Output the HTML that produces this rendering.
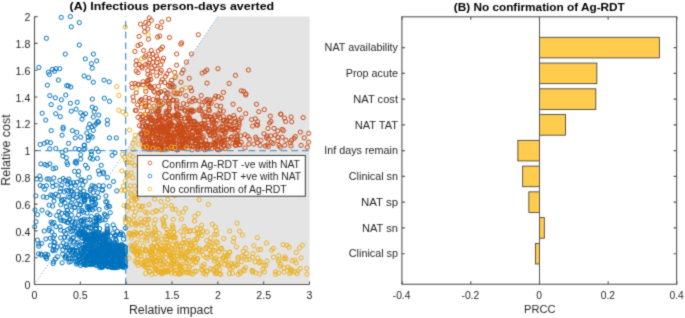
<!DOCTYPE html><html><head><meta charset="utf-8"><style>html,body{margin:0;padding:0;background:#fff;overflow:hidden}svg{display:block}</style></head><body><svg xmlns="http://www.w3.org/2000/svg" width="685" height="318" viewBox="0 0 685 318"><defs><filter id="bl" x="0" y="0" width="685" height="318" filterUnits="userSpaceOnUse" color-interpolation-filters="sRGB"><feConvolveMatrix order="3" kernelMatrix="0.0225 0.1050 0.0225 0.1050 0.4900 0.1050 0.0225 0.1050 0.0225" edgeMode="duplicate"/></filter></defs><g filter="url(#bl)"><rect width="685" height="318" fill="#fff"/><polygon points="126.17,284.50 126.17,150.55 217.84,16.60 309.51,16.60 309.51,284.50" fill="#E4E4E4"/><g fill="none" stroke="#C94A16" stroke-width="1.0"><circle cx="149.2" cy="17.9" r="2.1"/><circle cx="151.3" cy="20.3" r="2.1"/><circle cx="145.7" cy="22.4" r="2.1"/><circle cx="148.5" cy="23.5" r="2.1"/><circle cx="140.5" cy="24.1" r="2.1"/><circle cx="144.3" cy="27.3" r="2.1"/><circle cx="147.8" cy="29.1" r="2.1"/><circle cx="144.7" cy="31.9" r="2.1"/><circle cx="139.1" cy="36.4" r="2.1"/><circle cx="148.5" cy="39.2" r="2.1"/><circle cx="157.4" cy="26.3" r="2.1"/><circle cx="160.7" cy="27.6" r="2.1"/><circle cx="161.8" cy="22.0" r="2.1"/><circle cx="168.6" cy="19.3" r="2.1"/><circle cx="157.6" cy="37.1" r="2.1"/><circle cx="159.7" cy="36.1" r="2.1"/><circle cx="169.5" cy="37.5" r="2.1"/><circle cx="198.3" cy="34.7" r="2.1"/><circle cx="140.5" cy="44.2" r="2.1"/><circle cx="138.0" cy="45.6" r="2.1"/><circle cx="134.9" cy="51.5" r="2.1"/><circle cx="143.6" cy="50.5" r="2.1"/><circle cx="151.3" cy="50.5" r="2.1"/><circle cx="149.2" cy="54.0" r="2.1"/><circle cx="152.7" cy="54.0" r="2.1"/><circle cx="145.7" cy="55.7" r="2.1"/><circle cx="158.3" cy="50.9" r="2.1"/><circle cx="160.7" cy="49.1" r="2.1"/><circle cx="162.5" cy="47.0" r="2.1"/><circle cx="156.5" cy="56.1" r="2.1"/><circle cx="153.4" cy="58.2" r="2.1"/><circle cx="149.9" cy="59.6" r="2.1"/><circle cx="144.3" cy="57.5" r="2.1"/><circle cx="136.3" cy="60.7" r="2.1"/><circle cx="135.9" cy="65.2" r="2.1"/><circle cx="139.4" cy="64.5" r="2.1"/><circle cx="141.5" cy="66.6" r="2.1"/><circle cx="145.7" cy="64.5" r="2.1"/><circle cx="147.8" cy="65.2" r="2.1"/><circle cx="148.9" cy="63.1" r="2.1"/><circle cx="152.7" cy="62.4" r="2.1"/><circle cx="154.8" cy="65.9" r="2.1"/><circle cx="156.9" cy="62.4" r="2.1"/><circle cx="157.6" cy="58.9" r="2.1"/><circle cx="160.7" cy="65.0" r="2.1"/><circle cx="162.5" cy="61.0" r="2.1"/><circle cx="163.5" cy="58.2" r="2.1"/><circle cx="152.0" cy="68.0" r="2.1"/><circle cx="156.9" cy="68.7" r="2.1"/><circle cx="142.2" cy="68.0" r="2.1"/><circle cx="176.6" cy="54.0" r="2.1"/><circle cx="176.6" cy="65.2" r="2.1"/><circle cx="180.8" cy="44.2" r="2.1"/><circle cx="181.7" cy="42.8" r="2.1"/><circle cx="191.3" cy="54.0" r="2.1"/><circle cx="186.4" cy="62.1" r="2.1"/><circle cx="183.2" cy="70.0" r="2.1"/><circle cx="206.9" cy="70.0" r="2.1"/><circle cx="217.9" cy="68.7" r="2.1"/><circle cx="181.9" cy="73.1" r="2.1"/><circle cx="189.2" cy="78.3" r="2.1"/><circle cx="202.2" cy="73.1" r="2.1"/><circle cx="205.0" cy="71.6" r="2.1"/><circle cx="248.4" cy="70.0" r="2.1"/><circle cx="235.5" cy="75.4" r="2.1"/><circle cx="207.0" cy="83.1" r="2.1"/><circle cx="229.1" cy="83.5" r="2.1"/><circle cx="181.0" cy="82.2" r="2.1"/><circle cx="190.6" cy="87.9" r="2.1"/><circle cx="191.6" cy="90.8" r="2.1"/><circle cx="181.9" cy="89.9" r="2.1"/><circle cx="223.4" cy="92.4" r="2.1"/><circle cx="241.3" cy="90.8" r="2.1"/><circle cx="243.6" cy="91.2" r="2.1"/><circle cx="245.9" cy="93.7" r="2.1"/><circle cx="201.2" cy="95.6" r="2.1"/><circle cx="215.6" cy="96.2" r="2.1"/><circle cx="218.5" cy="96.6" r="2.1"/><circle cx="221.4" cy="98.2" r="2.1"/><circle cx="185.8" cy="95.6" r="2.1"/><circle cx="207.0" cy="99.5" r="2.1"/><circle cx="193.5" cy="98.5" r="2.1"/><circle cx="214.5" cy="98.7" r="2.1"/><circle cx="245.7" cy="95.0" r="2.1"/><circle cx="211.2" cy="103.2" r="2.1"/><circle cx="216.7" cy="105.7" r="2.1"/><circle cx="220.7" cy="106.2" r="2.1"/><circle cx="220.1" cy="110.6" r="2.1"/><circle cx="223.4" cy="111.1" r="2.1"/><circle cx="233.1" cy="104.2" r="2.1"/><circle cx="239.5" cy="109.6" r="2.1"/><circle cx="245.7" cy="113.6" r="2.1"/><circle cx="256.5" cy="104.2" r="2.1"/><circle cx="258.8" cy="111.7" r="2.1"/><circle cx="264.3" cy="109.6" r="2.1"/><circle cx="214.5" cy="115.1" r="2.1"/><circle cx="218.2" cy="115.8" r="2.1"/><circle cx="218.9" cy="113.6" r="2.1"/><circle cx="210.7" cy="117.3" r="2.1"/><circle cx="211.5" cy="120.3" r="2.1"/><circle cx="213.0" cy="122.5" r="2.1"/><circle cx="217.4" cy="120.3" r="2.1"/><circle cx="233.8" cy="115.5" r="2.1"/><circle cx="234.6" cy="118.1" r="2.1"/><circle cx="241.3" cy="118.1" r="2.1"/><circle cx="226.4" cy="121.1" r="2.1"/><circle cx="230.1" cy="121.5" r="2.1"/><circle cx="251.7" cy="119.6" r="2.1"/><circle cx="255.4" cy="118.8" r="2.1"/><circle cx="257.6" cy="121.8" r="2.1"/><circle cx="270.3" cy="116.1" r="2.1"/><circle cx="271.0" cy="121.5" r="2.1"/><circle cx="269.6" cy="123.0" r="2.1"/><circle cx="280.7" cy="114.1" r="2.1"/><circle cx="284.5" cy="118.1" r="2.1"/><circle cx="285.6" cy="121.5" r="2.1"/><circle cx="291.1" cy="117.0" r="2.1"/><circle cx="291.6" cy="121.8" r="2.1"/><circle cx="303.1" cy="117.6" r="2.1"/><circle cx="252.6" cy="126.1" r="2.1"/><circle cx="256.4" cy="124.6" r="2.1"/><circle cx="257.6" cy="125.2" r="2.1"/><circle cx="280.9" cy="114.3" r="2.1"/><circle cx="268.0" cy="128.4" r="2.1"/><circle cx="274.0" cy="128.4" r="2.1"/><circle cx="277.8" cy="130.9" r="2.1"/><circle cx="282.2" cy="129.4" r="2.1"/><circle cx="283.4" cy="130.6" r="2.1"/><circle cx="263.9" cy="133.7" r="2.1"/><circle cx="267.1" cy="135.9" r="2.1"/><circle cx="266.4" cy="137.8" r="2.1"/><circle cx="268.3" cy="139.1" r="2.1"/><circle cx="270.8" cy="135.9" r="2.1"/><circle cx="275.2" cy="135.3" r="2.1"/><circle cx="277.8" cy="137.2" r="2.1"/><circle cx="282.2" cy="137.2" r="2.1"/><circle cx="285.9" cy="140.3" r="2.1"/><circle cx="245.0" cy="134.7" r="2.1"/><circle cx="247.6" cy="136.5" r="2.1"/><circle cx="240.6" cy="135.9" r="2.1"/><circle cx="249.4" cy="139.1" r="2.1"/><circle cx="255.7" cy="137.2" r="2.1"/><circle cx="256.4" cy="139.1" r="2.1"/><circle cx="260.8" cy="140.3" r="2.1"/><circle cx="241.3" cy="142.2" r="2.1"/><circle cx="240.0" cy="144.7" r="2.1"/><circle cx="245.0" cy="147.9" r="2.1"/><circle cx="248.8" cy="144.1" r="2.1"/><circle cx="253.8" cy="144.1" r="2.1"/><circle cx="257.6" cy="142.8" r="2.1"/><circle cx="260.1" cy="145.4" r="2.1"/><circle cx="265.2" cy="146.0" r="2.1"/><circle cx="267.1" cy="145.0" r="2.1"/><circle cx="268.3" cy="146.6" r="2.1"/><circle cx="271.5" cy="142.2" r="2.1"/><circle cx="273.0" cy="143.5" r="2.1"/><circle cx="277.8" cy="141.0" r="2.1"/><circle cx="279.0" cy="145.4" r="2.1"/><circle cx="280.3" cy="147.2" r="2.1"/><circle cx="284.7" cy="145.4" r="2.1"/><circle cx="290.4" cy="142.8" r="2.1"/><circle cx="291.6" cy="140.3" r="2.1"/><circle cx="294.1" cy="138.4" r="2.1"/><circle cx="295.4" cy="136.5" r="2.1"/><circle cx="291.0" cy="146.0" r="2.1"/><circle cx="300.4" cy="132.1" r="2.1"/><circle cx="304.2" cy="137.8" r="2.1"/><circle cx="308.6" cy="133.4" r="2.1"/><circle cx="308.6" cy="142.2" r="2.1"/><circle cx="307.3" cy="147.2" r="2.1"/><circle cx="301.1" cy="145.4" r="2.1"/><circle cx="135.1" cy="83.5" r="2.1"/><circle cx="138.0" cy="72.6" r="2.1"/><circle cx="136.2" cy="71.1" r="2.1"/><circle cx="143.0" cy="81.7" r="2.1"/><circle cx="149.9" cy="76.1" r="2.1"/><circle cx="150.9" cy="79.5" r="2.1"/><circle cx="148.0" cy="80.3" r="2.1"/><circle cx="147.2" cy="81.2" r="2.1"/><circle cx="152.8" cy="71.7" r="2.1"/><circle cx="147.8" cy="74.3" r="2.1"/><circle cx="149.0" cy="79.8" r="2.1"/><circle cx="147.7" cy="70.6" r="2.1"/><circle cx="156.8" cy="75.8" r="2.1"/><circle cx="162.3" cy="79.6" r="2.1"/><circle cx="161.1" cy="82.0" r="2.1"/><circle cx="160.4" cy="72.8" r="2.1"/><circle cx="161.3" cy="70.5" r="2.1"/><circle cx="169.4" cy="70.5" r="2.1"/><circle cx="165.4" cy="76.6" r="2.1"/><circle cx="164.8" cy="82.5" r="2.1"/><circle cx="166.9" cy="73.9" r="2.1"/><circle cx="170.0" cy="83.3" r="2.1"/><circle cx="171.5" cy="80.3" r="2.1"/><circle cx="174.7" cy="72.4" r="2.1"/><circle cx="175.1" cy="77.4" r="2.1"/><circle cx="132.1" cy="87.4" r="2.1"/><circle cx="131.9" cy="83.6" r="2.1"/><circle cx="137.8" cy="84.4" r="2.1"/><circle cx="138.9" cy="84.7" r="2.1"/><circle cx="136.2" cy="92.7" r="2.1"/><circle cx="143.1" cy="84.8" r="2.1"/><circle cx="151.9" cy="87.8" r="2.1"/><circle cx="147.3" cy="83.8" r="2.1"/><circle cx="149.8" cy="86.0" r="2.1"/><circle cx="148.2" cy="84.4" r="2.1"/><circle cx="150.2" cy="87.4" r="2.1"/><circle cx="145.8" cy="91.4" r="2.1"/><circle cx="154.6" cy="92.2" r="2.1"/><circle cx="158.9" cy="93.1" r="2.1"/><circle cx="153.7" cy="91.2" r="2.1"/><circle cx="160.6" cy="91.9" r="2.1"/><circle cx="160.8" cy="91.8" r="2.1"/><circle cx="158.7" cy="92.9" r="2.1"/><circle cx="154.5" cy="86.5" r="2.1"/><circle cx="158.4" cy="86.3" r="2.1"/><circle cx="170.0" cy="86.5" r="2.1"/><circle cx="166.3" cy="93.0" r="2.1"/><circle cx="164.9" cy="90.7" r="2.1"/><circle cx="168.4" cy="85.4" r="2.1"/><circle cx="172.0" cy="87.2" r="2.1"/><circle cx="168.0" cy="93.1" r="2.1"/><circle cx="177.4" cy="93.2" r="2.1"/><circle cx="180.0" cy="93.9" r="2.1"/><circle cx="175.8" cy="94.0" r="2.1"/><circle cx="174.0" cy="86.7" r="2.1"/><circle cx="173.9" cy="92.7" r="2.1"/><circle cx="172.4" cy="84.8" r="2.1"/><circle cx="133.7" cy="100.9" r="2.1"/><circle cx="133.0" cy="97.0" r="2.1"/><circle cx="141.4" cy="107.3" r="2.1"/><circle cx="141.1" cy="100.2" r="2.1"/><circle cx="137.6" cy="104.9" r="2.1"/><circle cx="141.3" cy="99.5" r="2.1"/><circle cx="139.8" cy="101.4" r="2.1"/><circle cx="145.7" cy="97.3" r="2.1"/><circle cx="145.9" cy="105.5" r="2.1"/><circle cx="149.0" cy="98.3" r="2.1"/><circle cx="145.1" cy="106.6" r="2.1"/><circle cx="149.4" cy="106.0" r="2.1"/><circle cx="149.3" cy="101.1" r="2.1"/><circle cx="145.3" cy="103.3" r="2.1"/><circle cx="153.1" cy="99.6" r="2.1"/><circle cx="158.6" cy="110.4" r="2.1"/><circle cx="156.5" cy="100.6" r="2.1"/><circle cx="160.9" cy="101.3" r="2.1"/><circle cx="153.9" cy="106.0" r="2.1"/><circle cx="161.3" cy="104.9" r="2.1"/><circle cx="158.5" cy="102.4" r="2.1"/><circle cx="157.7" cy="97.0" r="2.1"/><circle cx="158.3" cy="99.9" r="2.1"/><circle cx="159.0" cy="105.5" r="2.1"/><circle cx="159.2" cy="108.7" r="2.1"/><circle cx="169.4" cy="103.7" r="2.1"/><circle cx="168.1" cy="103.2" r="2.1"/><circle cx="168.2" cy="101.2" r="2.1"/><circle cx="162.9" cy="103.4" r="2.1"/><circle cx="165.5" cy="97.9" r="2.1"/><circle cx="170.3" cy="97.8" r="2.1"/><circle cx="169.4" cy="107.8" r="2.1"/><circle cx="169.3" cy="109.1" r="2.1"/><circle cx="165.8" cy="97.7" r="2.1"/><circle cx="176.6" cy="106.0" r="2.1"/><circle cx="176.5" cy="108.0" r="2.1"/><circle cx="176.6" cy="100.6" r="2.1"/><circle cx="177.1" cy="103.1" r="2.1"/><circle cx="173.6" cy="100.4" r="2.1"/><circle cx="177.0" cy="109.6" r="2.1"/><circle cx="180.4" cy="108.3" r="2.1"/><circle cx="172.5" cy="100.1" r="2.1"/><circle cx="182.5" cy="108.5" r="2.1"/><circle cx="187.0" cy="104.7" r="2.1"/><circle cx="188.8" cy="110.0" r="2.1"/><circle cx="183.4" cy="103.5" r="2.1"/><circle cx="189.7" cy="100.6" r="2.1"/><circle cx="185.0" cy="110.1" r="2.1"/><circle cx="195.0" cy="100.5" r="2.1"/><circle cx="191.7" cy="101.7" r="2.1"/><circle cx="191.6" cy="109.8" r="2.1"/><circle cx="198.9" cy="110.3" r="2.1"/><circle cx="199.0" cy="100.9" r="2.1"/><circle cx="202.1" cy="105.2" r="2.1"/><circle cx="205.9" cy="100.7" r="2.1"/><circle cx="199.5" cy="108.9" r="2.1"/><circle cx="204.5" cy="101.6" r="2.1"/><circle cx="208.8" cy="106.7" r="2.1"/><circle cx="208.8" cy="109.4" r="2.1"/><circle cx="209.6" cy="101.9" r="2.1"/><circle cx="209.9" cy="100.0" r="2.1"/><circle cx="208.8" cy="103.8" r="2.1"/><circle cx="135.3" cy="110.5" r="2.1"/><circle cx="140.7" cy="114.4" r="2.1"/><circle cx="136.4" cy="110.5" r="2.1"/><circle cx="142.5" cy="116.0" r="2.1"/><circle cx="142.5" cy="122.3" r="2.1"/><circle cx="143.0" cy="117.1" r="2.1"/><circle cx="140.9" cy="119.9" r="2.1"/><circle cx="142.8" cy="120.4" r="2.1"/><circle cx="138.0" cy="117.3" r="2.1"/><circle cx="147.5" cy="122.4" r="2.1"/><circle cx="148.7" cy="114.8" r="2.1"/><circle cx="151.5" cy="111.4" r="2.1"/><circle cx="153.2" cy="110.9" r="2.1"/><circle cx="150.8" cy="119.7" r="2.1"/><circle cx="148.3" cy="116.8" r="2.1"/><circle cx="150.8" cy="117.1" r="2.1"/><circle cx="145.3" cy="114.7" r="2.1"/><circle cx="147.5" cy="122.0" r="2.1"/><circle cx="152.7" cy="120.6" r="2.1"/><circle cx="146.0" cy="117.7" r="2.1"/><circle cx="150.6" cy="119.0" r="2.1"/><circle cx="149.1" cy="117.1" r="2.1"/><circle cx="151.1" cy="119.8" r="2.1"/><circle cx="152.2" cy="118.1" r="2.1"/><circle cx="147.3" cy="110.6" r="2.1"/><circle cx="157.4" cy="114.9" r="2.1"/><circle cx="159.5" cy="122.8" r="2.1"/><circle cx="158.6" cy="120.3" r="2.1"/><circle cx="156.9" cy="113.9" r="2.1"/><circle cx="156.9" cy="120.9" r="2.1"/><circle cx="160.9" cy="120.5" r="2.1"/><circle cx="161.5" cy="119.5" r="2.1"/><circle cx="157.7" cy="110.6" r="2.1"/><circle cx="154.9" cy="122.7" r="2.1"/><circle cx="157.0" cy="112.0" r="2.1"/><circle cx="162.1" cy="116.1" r="2.1"/><circle cx="158.7" cy="119.4" r="2.1"/><circle cx="160.0" cy="117.6" r="2.1"/><circle cx="154.9" cy="120.9" r="2.1"/><circle cx="158.9" cy="111.2" r="2.1"/><circle cx="159.3" cy="115.5" r="2.1"/><circle cx="156.7" cy="121.4" r="2.1"/><circle cx="170.1" cy="115.8" r="2.1"/><circle cx="169.9" cy="119.6" r="2.1"/><circle cx="169.3" cy="118.9" r="2.1"/><circle cx="164.8" cy="117.3" r="2.1"/><circle cx="169.5" cy="123.1" r="2.1"/><circle cx="171.1" cy="123.1" r="2.1"/><circle cx="165.1" cy="118.6" r="2.1"/><circle cx="165.8" cy="123.0" r="2.1"/><circle cx="169.7" cy="116.3" r="2.1"/><circle cx="168.9" cy="114.9" r="2.1"/><circle cx="169.0" cy="122.9" r="2.1"/><circle cx="166.2" cy="113.1" r="2.1"/><circle cx="168.0" cy="120.9" r="2.1"/><circle cx="163.3" cy="120.4" r="2.1"/><circle cx="167.3" cy="112.7" r="2.1"/><circle cx="166.2" cy="111.3" r="2.1"/><circle cx="168.5" cy="111.0" r="2.1"/><circle cx="173.6" cy="115.8" r="2.1"/><circle cx="177.6" cy="115.7" r="2.1"/><circle cx="178.8" cy="114.3" r="2.1"/><circle cx="172.9" cy="118.0" r="2.1"/><circle cx="176.8" cy="114.5" r="2.1"/><circle cx="176.3" cy="116.9" r="2.1"/><circle cx="181.0" cy="119.4" r="2.1"/><circle cx="176.2" cy="116.0" r="2.1"/><circle cx="175.9" cy="115.9" r="2.1"/><circle cx="178.5" cy="115.4" r="2.1"/><circle cx="175.6" cy="115.0" r="2.1"/><circle cx="178.5" cy="120.9" r="2.1"/><circle cx="177.0" cy="119.3" r="2.1"/><circle cx="181.2" cy="117.6" r="2.1"/><circle cx="179.6" cy="122.9" r="2.1"/><circle cx="189.9" cy="118.5" r="2.1"/><circle cx="187.8" cy="111.7" r="2.1"/><circle cx="184.9" cy="110.9" r="2.1"/><circle cx="188.4" cy="116.8" r="2.1"/><circle cx="190.2" cy="113.4" r="2.1"/><circle cx="188.6" cy="120.0" r="2.1"/><circle cx="186.9" cy="115.8" r="2.1"/><circle cx="185.8" cy="121.7" r="2.1"/><circle cx="189.0" cy="118.3" r="2.1"/><circle cx="184.4" cy="118.4" r="2.1"/><circle cx="188.1" cy="117.9" r="2.1"/><circle cx="194.1" cy="121.8" r="2.1"/><circle cx="191.4" cy="110.8" r="2.1"/><circle cx="193.1" cy="121.2" r="2.1"/><circle cx="192.0" cy="122.1" r="2.1"/><circle cx="190.3" cy="111.2" r="2.1"/><circle cx="196.4" cy="123.5" r="2.1"/><circle cx="190.4" cy="120.9" r="2.1"/><circle cx="193.9" cy="110.8" r="2.1"/><circle cx="192.7" cy="111.6" r="2.1"/><circle cx="194.6" cy="121.4" r="2.1"/><circle cx="206.8" cy="116.3" r="2.1"/><circle cx="204.8" cy="112.3" r="2.1"/><circle cx="200.7" cy="110.5" r="2.1"/><circle cx="205.3" cy="116.7" r="2.1"/><circle cx="204.4" cy="123.5" r="2.1"/><circle cx="208.5" cy="119.5" r="2.1"/><circle cx="202.9" cy="114.1" r="2.1"/><circle cx="203.2" cy="116.2" r="2.1"/><circle cx="204.3" cy="120.2" r="2.1"/><circle cx="212.3" cy="119.6" r="2.1"/><circle cx="215.3" cy="116.8" r="2.1"/><circle cx="213.9" cy="122.2" r="2.1"/><circle cx="209.5" cy="110.7" r="2.1"/><circle cx="209.0" cy="116.4" r="2.1"/><circle cx="213.1" cy="123.3" r="2.1"/><circle cx="215.8" cy="123.1" r="2.1"/><circle cx="213.2" cy="122.6" r="2.1"/><circle cx="225.5" cy="122.5" r="2.1"/><circle cx="223.1" cy="120.8" r="2.1"/><circle cx="220.1" cy="117.8" r="2.1"/><circle cx="223.3" cy="116.5" r="2.1"/><circle cx="222.9" cy="123.6" r="2.1"/><circle cx="224.4" cy="120.1" r="2.1"/><circle cx="229.2" cy="117.0" r="2.1"/><circle cx="227.3" cy="120.2" r="2.1"/><circle cx="235.2" cy="121.4" r="2.1"/><circle cx="234.5" cy="122.7" r="2.1"/><circle cx="230.0" cy="117.8" r="2.1"/><circle cx="239.3" cy="120.2" r="2.1"/><circle cx="239.1" cy="122.6" r="2.1"/><circle cx="141.5" cy="134.7" r="2.1"/><circle cx="139.4" cy="125.7" r="2.1"/><circle cx="141.9" cy="126.9" r="2.1"/><circle cx="144.0" cy="129.8" r="2.1"/><circle cx="141.9" cy="133.7" r="2.1"/><circle cx="143.4" cy="132.1" r="2.1"/><circle cx="140.8" cy="133.8" r="2.1"/><circle cx="142.8" cy="126.1" r="2.1"/><circle cx="151.8" cy="129.9" r="2.1"/><circle cx="146.1" cy="135.1" r="2.1"/><circle cx="147.8" cy="135.6" r="2.1"/><circle cx="151.6" cy="124.0" r="2.1"/><circle cx="150.5" cy="127.0" r="2.1"/><circle cx="144.6" cy="135.2" r="2.1"/><circle cx="147.4" cy="136.3" r="2.1"/><circle cx="152.1" cy="131.4" r="2.1"/><circle cx="153.0" cy="133.5" r="2.1"/><circle cx="153.6" cy="127.0" r="2.1"/><circle cx="152.7" cy="132.5" r="2.1"/><circle cx="149.8" cy="131.9" r="2.1"/><circle cx="153.3" cy="127.6" r="2.1"/><circle cx="147.8" cy="134.0" r="2.1"/><circle cx="147.0" cy="128.6" r="2.1"/><circle cx="152.8" cy="126.2" r="2.1"/><circle cx="153.5" cy="127.8" r="2.1"/><circle cx="144.7" cy="135.9" r="2.1"/><circle cx="152.6" cy="135.1" r="2.1"/><circle cx="147.4" cy="132.6" r="2.1"/><circle cx="145.9" cy="126.5" r="2.1"/><circle cx="148.6" cy="130.7" r="2.1"/><circle cx="146.4" cy="132.0" r="2.1"/><circle cx="147.8" cy="127.3" r="2.1"/><circle cx="153.0" cy="133.1" r="2.1"/><circle cx="147.0" cy="127.7" r="2.1"/><circle cx="149.9" cy="134.2" r="2.1"/><circle cx="146.4" cy="125.6" r="2.1"/><circle cx="157.0" cy="134.6" r="2.1"/><circle cx="157.8" cy="129.2" r="2.1"/><circle cx="161.0" cy="127.7" r="2.1"/><circle cx="155.1" cy="130.3" r="2.1"/><circle cx="157.1" cy="128.7" r="2.1"/><circle cx="160.3" cy="131.8" r="2.1"/><circle cx="162.2" cy="129.3" r="2.1"/><circle cx="156.0" cy="125.2" r="2.1"/><circle cx="161.8" cy="132.1" r="2.1"/><circle cx="160.6" cy="127.9" r="2.1"/><circle cx="161.7" cy="125.2" r="2.1"/><circle cx="155.4" cy="129.4" r="2.1"/><circle cx="156.6" cy="131.9" r="2.1"/><circle cx="159.5" cy="130.9" r="2.1"/><circle cx="160.6" cy="132.9" r="2.1"/><circle cx="161.3" cy="135.1" r="2.1"/><circle cx="161.2" cy="127.3" r="2.1"/><circle cx="160.8" cy="126.3" r="2.1"/><circle cx="162.4" cy="128.5" r="2.1"/><circle cx="160.8" cy="125.6" r="2.1"/><circle cx="160.9" cy="127.9" r="2.1"/><circle cx="162.3" cy="129.2" r="2.1"/><circle cx="161.1" cy="134.2" r="2.1"/><circle cx="157.9" cy="133.9" r="2.1"/><circle cx="157.6" cy="127.1" r="2.1"/><circle cx="162.5" cy="128.1" r="2.1"/><circle cx="158.1" cy="128.1" r="2.1"/><circle cx="154.3" cy="127.5" r="2.1"/><circle cx="162.1" cy="129.5" r="2.1"/><circle cx="159.5" cy="129.4" r="2.1"/><circle cx="171.4" cy="125.4" r="2.1"/><circle cx="170.2" cy="126.9" r="2.1"/><circle cx="167.6" cy="131.9" r="2.1"/><circle cx="168.4" cy="136.9" r="2.1"/><circle cx="168.3" cy="131.7" r="2.1"/><circle cx="168.3" cy="135.2" r="2.1"/><circle cx="170.4" cy="135.6" r="2.1"/><circle cx="166.2" cy="131.8" r="2.1"/><circle cx="168.5" cy="135.0" r="2.1"/><circle cx="167.8" cy="137.0" r="2.1"/><circle cx="171.0" cy="124.7" r="2.1"/><circle cx="168.0" cy="128.8" r="2.1"/><circle cx="167.7" cy="127.0" r="2.1"/><circle cx="166.3" cy="135.0" r="2.1"/><circle cx="163.7" cy="129.6" r="2.1"/><circle cx="163.2" cy="129.5" r="2.1"/><circle cx="166.4" cy="128.8" r="2.1"/><circle cx="171.8" cy="124.2" r="2.1"/><circle cx="163.9" cy="133.7" r="2.1"/><circle cx="166.1" cy="125.2" r="2.1"/><circle cx="167.6" cy="127.0" r="2.1"/><circle cx="167.2" cy="129.5" r="2.1"/><circle cx="166.8" cy="132.6" r="2.1"/><circle cx="165.0" cy="130.8" r="2.1"/><circle cx="168.2" cy="134.0" r="2.1"/><circle cx="166.5" cy="127.3" r="2.1"/><circle cx="167.1" cy="125.4" r="2.1"/><circle cx="170.1" cy="125.5" r="2.1"/><circle cx="165.0" cy="127.6" r="2.1"/><circle cx="171.2" cy="135.2" r="2.1"/><circle cx="173.0" cy="136.8" r="2.1"/><circle cx="172.9" cy="129.3" r="2.1"/><circle cx="177.0" cy="128.6" r="2.1"/><circle cx="173.8" cy="125.7" r="2.1"/><circle cx="173.1" cy="134.4" r="2.1"/><circle cx="174.6" cy="129.7" r="2.1"/><circle cx="172.5" cy="129.2" r="2.1"/><circle cx="179.3" cy="133.8" r="2.1"/><circle cx="180.7" cy="131.7" r="2.1"/><circle cx="177.9" cy="137.0" r="2.1"/><circle cx="179.8" cy="134.6" r="2.1"/><circle cx="180.1" cy="127.0" r="2.1"/><circle cx="179.4" cy="127.1" r="2.1"/><circle cx="180.7" cy="135.0" r="2.1"/><circle cx="173.0" cy="135.9" r="2.1"/><circle cx="177.0" cy="127.7" r="2.1"/><circle cx="180.0" cy="124.1" r="2.1"/><circle cx="176.9" cy="125.4" r="2.1"/><circle cx="180.1" cy="132.3" r="2.1"/><circle cx="175.4" cy="132.6" r="2.1"/><circle cx="177.9" cy="133.2" r="2.1"/><circle cx="178.7" cy="130.9" r="2.1"/><circle cx="178.0" cy="126.2" r="2.1"/><circle cx="176.5" cy="135.2" r="2.1"/><circle cx="181.1" cy="128.4" r="2.1"/><circle cx="179.4" cy="125.0" r="2.1"/><circle cx="178.7" cy="132.3" r="2.1"/><circle cx="180.2" cy="125.0" r="2.1"/><circle cx="190.1" cy="135.6" r="2.1"/><circle cx="184.2" cy="129.8" r="2.1"/><circle cx="190.2" cy="128.6" r="2.1"/><circle cx="190.0" cy="128.6" r="2.1"/><circle cx="184.0" cy="127.3" r="2.1"/><circle cx="188.2" cy="134.6" r="2.1"/><circle cx="185.0" cy="136.3" r="2.1"/><circle cx="188.8" cy="124.8" r="2.1"/><circle cx="183.7" cy="124.5" r="2.1"/><circle cx="186.9" cy="125.2" r="2.1"/><circle cx="186.8" cy="135.8" r="2.1"/><circle cx="184.3" cy="130.1" r="2.1"/><circle cx="186.2" cy="130.3" r="2.1"/><circle cx="183.2" cy="132.4" r="2.1"/><circle cx="183.1" cy="125.6" r="2.1"/><circle cx="184.8" cy="135.2" r="2.1"/><circle cx="188.1" cy="125.0" r="2.1"/><circle cx="187.1" cy="132.7" r="2.1"/><circle cx="184.8" cy="129.2" r="2.1"/><circle cx="181.4" cy="127.5" r="2.1"/><circle cx="182.5" cy="130.7" r="2.1"/><circle cx="181.6" cy="136.0" r="2.1"/><circle cx="188.6" cy="129.9" r="2.1"/><circle cx="181.8" cy="135.3" r="2.1"/><circle cx="188.4" cy="124.3" r="2.1"/><circle cx="194.0" cy="128.0" r="2.1"/><circle cx="194.2" cy="126.5" r="2.1"/><circle cx="191.8" cy="135.2" r="2.1"/><circle cx="198.0" cy="124.7" r="2.1"/><circle cx="191.2" cy="124.7" r="2.1"/><circle cx="198.2" cy="132.4" r="2.1"/><circle cx="198.8" cy="135.5" r="2.1"/><circle cx="196.4" cy="135.0" r="2.1"/><circle cx="193.6" cy="128.5" r="2.1"/><circle cx="195.7" cy="125.0" r="2.1"/><circle cx="198.1" cy="132.3" r="2.1"/><circle cx="195.9" cy="132.7" r="2.1"/><circle cx="194.5" cy="127.3" r="2.1"/><circle cx="196.9" cy="127.6" r="2.1"/><circle cx="191.6" cy="134.5" r="2.1"/><circle cx="192.0" cy="136.8" r="2.1"/><circle cx="191.1" cy="127.2" r="2.1"/><circle cx="195.4" cy="125.2" r="2.1"/><circle cx="193.0" cy="131.5" r="2.1"/><circle cx="199.0" cy="130.6" r="2.1"/><circle cx="197.4" cy="130.9" r="2.1"/><circle cx="203.3" cy="135.8" r="2.1"/><circle cx="206.6" cy="127.9" r="2.1"/><circle cx="202.2" cy="136.9" r="2.1"/><circle cx="205.4" cy="127.9" r="2.1"/><circle cx="202.1" cy="126.4" r="2.1"/><circle cx="200.6" cy="136.3" r="2.1"/><circle cx="200.1" cy="132.6" r="2.1"/><circle cx="200.2" cy="130.9" r="2.1"/><circle cx="199.6" cy="126.4" r="2.1"/><circle cx="203.5" cy="128.6" r="2.1"/><circle cx="207.8" cy="130.6" r="2.1"/><circle cx="204.7" cy="125.7" r="2.1"/><circle cx="202.7" cy="128.4" r="2.1"/><circle cx="201.1" cy="124.0" r="2.1"/><circle cx="202.0" cy="123.8" r="2.1"/><circle cx="205.2" cy="124.0" r="2.1"/><circle cx="208.1" cy="131.8" r="2.1"/><circle cx="213.4" cy="132.1" r="2.1"/><circle cx="210.0" cy="134.6" r="2.1"/><circle cx="210.2" cy="135.8" r="2.1"/><circle cx="213.1" cy="129.5" r="2.1"/><circle cx="215.1" cy="127.7" r="2.1"/><circle cx="215.0" cy="128.3" r="2.1"/><circle cx="214.8" cy="134.7" r="2.1"/><circle cx="213.1" cy="136.1" r="2.1"/><circle cx="214.0" cy="128.2" r="2.1"/><circle cx="209.3" cy="128.3" r="2.1"/><circle cx="209.5" cy="130.9" r="2.1"/><circle cx="215.2" cy="132.9" r="2.1"/><circle cx="215.0" cy="131.1" r="2.1"/><circle cx="208.7" cy="125.7" r="2.1"/><circle cx="211.2" cy="133.2" r="2.1"/><circle cx="220.3" cy="127.3" r="2.1"/><circle cx="218.8" cy="136.4" r="2.1"/><circle cx="225.1" cy="133.5" r="2.1"/><circle cx="226.0" cy="128.4" r="2.1"/><circle cx="224.2" cy="131.9" r="2.1"/><circle cx="226.5" cy="127.5" r="2.1"/><circle cx="219.1" cy="129.0" r="2.1"/><circle cx="222.0" cy="129.9" r="2.1"/><circle cx="220.5" cy="130.9" r="2.1"/><circle cx="222.8" cy="137.1" r="2.1"/><circle cx="226.0" cy="132.2" r="2.1"/><circle cx="226.5" cy="128.4" r="2.1"/><circle cx="223.1" cy="130.5" r="2.1"/><circle cx="222.3" cy="126.7" r="2.1"/><circle cx="231.9" cy="129.6" r="2.1"/><circle cx="233.5" cy="128.8" r="2.1"/><circle cx="227.8" cy="127.9" r="2.1"/><circle cx="231.3" cy="126.7" r="2.1"/><circle cx="231.5" cy="136.8" r="2.1"/><circle cx="234.3" cy="128.8" r="2.1"/><circle cx="235.6" cy="128.1" r="2.1"/><circle cx="230.8" cy="129.3" r="2.1"/><circle cx="230.0" cy="124.7" r="2.1"/><circle cx="235.7" cy="133.3" r="2.1"/><circle cx="239.1" cy="124.7" r="2.1"/><circle cx="237.0" cy="135.1" r="2.1"/><circle cx="237.2" cy="137.0" r="2.1"/><circle cx="238.0" cy="130.4" r="2.1"/><circle cx="238.2" cy="127.7" r="2.1"/><circle cx="143.5" cy="141.6" r="2.1"/><circle cx="143.1" cy="140.2" r="2.1"/><circle cx="144.0" cy="146.4" r="2.1"/><circle cx="144.5" cy="145.7" r="2.1"/><circle cx="143.7" cy="147.5" r="2.1"/><circle cx="142.2" cy="139.3" r="2.1"/><circle cx="151.8" cy="144.4" r="2.1"/><circle cx="152.7" cy="148.5" r="2.1"/><circle cx="151.4" cy="149.3" r="2.1"/><circle cx="149.2" cy="146.3" r="2.1"/><circle cx="152.0" cy="138.8" r="2.1"/><circle cx="153.1" cy="145.9" r="2.1"/><circle cx="147.5" cy="143.5" r="2.1"/><circle cx="150.2" cy="146.6" r="2.1"/><circle cx="148.5" cy="137.9" r="2.1"/><circle cx="149.9" cy="140.8" r="2.1"/><circle cx="146.4" cy="143.9" r="2.1"/><circle cx="150.3" cy="141.5" r="2.1"/><circle cx="148.4" cy="147.9" r="2.1"/><circle cx="148.3" cy="149.3" r="2.1"/><circle cx="153.0" cy="145.4" r="2.1"/><circle cx="147.7" cy="144.5" r="2.1"/><circle cx="153.5" cy="142.2" r="2.1"/><circle cx="150.4" cy="147.2" r="2.1"/><circle cx="150.8" cy="148.6" r="2.1"/><circle cx="146.1" cy="141.0" r="2.1"/><circle cx="148.3" cy="142.7" r="2.1"/><circle cx="145.6" cy="147.6" r="2.1"/><circle cx="145.0" cy="144.6" r="2.1"/><circle cx="150.0" cy="143.4" r="2.1"/><circle cx="149.3" cy="139.4" r="2.1"/><circle cx="155.7" cy="139.3" r="2.1"/><circle cx="160.9" cy="148.3" r="2.1"/><circle cx="160.3" cy="143.8" r="2.1"/><circle cx="159.4" cy="148.3" r="2.1"/><circle cx="155.3" cy="144.6" r="2.1"/><circle cx="158.0" cy="137.2" r="2.1"/><circle cx="157.7" cy="149.5" r="2.1"/><circle cx="160.4" cy="138.3" r="2.1"/><circle cx="159.4" cy="137.8" r="2.1"/><circle cx="162.2" cy="148.1" r="2.1"/><circle cx="157.7" cy="144.4" r="2.1"/><circle cx="159.4" cy="145.1" r="2.1"/><circle cx="161.4" cy="149.8" r="2.1"/><circle cx="161.1" cy="138.6" r="2.1"/><circle cx="160.6" cy="146.7" r="2.1"/><circle cx="161.8" cy="147.8" r="2.1"/><circle cx="159.9" cy="143.7" r="2.1"/><circle cx="160.5" cy="147.9" r="2.1"/><circle cx="154.2" cy="147.1" r="2.1"/><circle cx="156.5" cy="138.1" r="2.1"/><circle cx="159.2" cy="149.4" r="2.1"/><circle cx="154.8" cy="148.8" r="2.1"/><circle cx="161.6" cy="141.8" r="2.1"/><circle cx="158.8" cy="142.4" r="2.1"/><circle cx="158.4" cy="148.7" r="2.1"/><circle cx="162.4" cy="139.4" r="2.1"/><circle cx="154.6" cy="145.2" r="2.1"/><circle cx="154.2" cy="141.1" r="2.1"/><circle cx="156.6" cy="137.2" r="2.1"/><circle cx="164.6" cy="144.1" r="2.1"/><circle cx="167.0" cy="149.1" r="2.1"/><circle cx="171.7" cy="148.3" r="2.1"/><circle cx="168.3" cy="143.5" r="2.1"/><circle cx="167.2" cy="148.5" r="2.1"/><circle cx="168.2" cy="143.8" r="2.1"/><circle cx="171.2" cy="147.4" r="2.1"/><circle cx="171.5" cy="141.3" r="2.1"/><circle cx="163.7" cy="148.9" r="2.1"/><circle cx="166.5" cy="139.2" r="2.1"/><circle cx="167.6" cy="147.9" r="2.1"/><circle cx="167.1" cy="140.1" r="2.1"/><circle cx="170.6" cy="142.4" r="2.1"/><circle cx="167.6" cy="142.3" r="2.1"/><circle cx="163.6" cy="140.3" r="2.1"/><circle cx="166.0" cy="138.7" r="2.1"/><circle cx="169.6" cy="138.7" r="2.1"/><circle cx="168.9" cy="145.0" r="2.1"/><circle cx="169.7" cy="142.2" r="2.1"/><circle cx="167.2" cy="142.7" r="2.1"/><circle cx="168.6" cy="145.4" r="2.1"/><circle cx="163.0" cy="146.5" r="2.1"/><circle cx="164.4" cy="145.1" r="2.1"/><circle cx="170.2" cy="138.4" r="2.1"/><circle cx="172.0" cy="141.3" r="2.1"/><circle cx="167.7" cy="147.6" r="2.1"/><circle cx="165.1" cy="149.7" r="2.1"/><circle cx="170.6" cy="147.1" r="2.1"/><circle cx="166.2" cy="141.7" r="2.1"/><circle cx="177.6" cy="146.9" r="2.1"/><circle cx="176.5" cy="144.4" r="2.1"/><circle cx="173.3" cy="141.7" r="2.1"/><circle cx="172.3" cy="148.6" r="2.1"/><circle cx="179.6" cy="144.2" r="2.1"/><circle cx="180.6" cy="138.6" r="2.1"/><circle cx="180.0" cy="145.8" r="2.1"/><circle cx="178.4" cy="149.3" r="2.1"/><circle cx="174.8" cy="137.2" r="2.1"/><circle cx="176.5" cy="149.7" r="2.1"/><circle cx="175.5" cy="140.2" r="2.1"/><circle cx="173.8" cy="142.4" r="2.1"/><circle cx="172.1" cy="145.9" r="2.1"/><circle cx="177.3" cy="149.8" r="2.1"/><circle cx="172.5" cy="147.1" r="2.1"/><circle cx="172.4" cy="140.4" r="2.1"/><circle cx="179.0" cy="140.7" r="2.1"/><circle cx="180.3" cy="142.0" r="2.1"/><circle cx="173.0" cy="140.1" r="2.1"/><circle cx="180.5" cy="137.2" r="2.1"/><circle cx="172.7" cy="144.6" r="2.1"/><circle cx="175.8" cy="148.7" r="2.1"/><circle cx="176.5" cy="146.3" r="2.1"/><circle cx="172.5" cy="141.9" r="2.1"/><circle cx="174.3" cy="137.5" r="2.1"/><circle cx="183.2" cy="141.3" r="2.1"/><circle cx="184.5" cy="147.5" r="2.1"/><circle cx="186.6" cy="138.9" r="2.1"/><circle cx="182.7" cy="146.8" r="2.1"/><circle cx="186.7" cy="143.7" r="2.1"/><circle cx="182.9" cy="144.9" r="2.1"/><circle cx="185.7" cy="143.9" r="2.1"/><circle cx="183.7" cy="145.7" r="2.1"/><circle cx="182.9" cy="148.2" r="2.1"/><circle cx="187.4" cy="139.3" r="2.1"/><circle cx="189.8" cy="145.6" r="2.1"/><circle cx="183.0" cy="147.1" r="2.1"/><circle cx="182.3" cy="140.2" r="2.1"/><circle cx="186.0" cy="138.5" r="2.1"/><circle cx="184.7" cy="138.5" r="2.1"/><circle cx="183.2" cy="140.7" r="2.1"/><circle cx="189.0" cy="140.0" r="2.1"/><circle cx="188.4" cy="142.8" r="2.1"/><circle cx="182.5" cy="144.6" r="2.1"/><circle cx="183.1" cy="143.3" r="2.1"/><circle cx="182.1" cy="141.7" r="2.1"/><circle cx="186.9" cy="145.3" r="2.1"/><circle cx="187.5" cy="145.4" r="2.1"/><circle cx="195.0" cy="142.9" r="2.1"/><circle cx="196.6" cy="143.0" r="2.1"/><circle cx="199.1" cy="138.1" r="2.1"/><circle cx="197.5" cy="146.9" r="2.1"/><circle cx="195.1" cy="144.2" r="2.1"/><circle cx="191.5" cy="140.9" r="2.1"/><circle cx="192.0" cy="138.4" r="2.1"/><circle cx="196.8" cy="140.4" r="2.1"/><circle cx="197.8" cy="145.6" r="2.1"/><circle cx="197.6" cy="140.1" r="2.1"/><circle cx="194.7" cy="139.5" r="2.1"/><circle cx="198.8" cy="146.7" r="2.1"/><circle cx="193.2" cy="146.3" r="2.1"/><circle cx="191.1" cy="137.8" r="2.1"/><circle cx="198.3" cy="138.2" r="2.1"/><circle cx="197.6" cy="148.2" r="2.1"/><circle cx="196.0" cy="140.2" r="2.1"/><circle cx="192.0" cy="149.8" r="2.1"/><circle cx="192.6" cy="138.4" r="2.1"/><circle cx="197.6" cy="149.4" r="2.1"/><circle cx="191.4" cy="146.7" r="2.1"/><circle cx="200.4" cy="145.9" r="2.1"/><circle cx="206.4" cy="145.4" r="2.1"/><circle cx="201.2" cy="141.4" r="2.1"/><circle cx="203.4" cy="148.2" r="2.1"/><circle cx="207.6" cy="144.1" r="2.1"/><circle cx="206.8" cy="148.6" r="2.1"/><circle cx="206.4" cy="144.5" r="2.1"/><circle cx="201.3" cy="144.5" r="2.1"/><circle cx="205.7" cy="140.3" r="2.1"/><circle cx="206.2" cy="148.0" r="2.1"/><circle cx="202.9" cy="141.8" r="2.1"/><circle cx="207.0" cy="144.8" r="2.1"/><circle cx="200.8" cy="145.9" r="2.1"/><circle cx="203.3" cy="143.6" r="2.1"/><circle cx="204.3" cy="144.3" r="2.1"/><circle cx="207.4" cy="148.9" r="2.1"/><circle cx="204.6" cy="149.7" r="2.1"/><circle cx="216.2" cy="143.8" r="2.1"/><circle cx="214.1" cy="139.2" r="2.1"/><circle cx="217.4" cy="149.6" r="2.1"/><circle cx="210.0" cy="144.6" r="2.1"/><circle cx="217.3" cy="149.2" r="2.1"/><circle cx="211.1" cy="144.9" r="2.1"/><circle cx="215.1" cy="145.0" r="2.1"/><circle cx="212.0" cy="148.3" r="2.1"/><circle cx="209.9" cy="146.3" r="2.1"/><circle cx="215.3" cy="143.5" r="2.1"/><circle cx="215.0" cy="147.0" r="2.1"/><circle cx="216.0" cy="142.1" r="2.1"/><circle cx="215.2" cy="144.4" r="2.1"/><circle cx="214.0" cy="142.3" r="2.1"/><circle cx="216.3" cy="141.2" r="2.1"/><circle cx="224.0" cy="140.9" r="2.1"/><circle cx="222.2" cy="141.6" r="2.1"/><circle cx="221.2" cy="143.1" r="2.1"/><circle cx="221.2" cy="144.3" r="2.1"/><circle cx="225.1" cy="148.6" r="2.1"/><circle cx="220.9" cy="147.7" r="2.1"/><circle cx="223.9" cy="140.2" r="2.1"/><circle cx="224.3" cy="145.6" r="2.1"/><circle cx="223.7" cy="146.2" r="2.1"/><circle cx="219.1" cy="149.8" r="2.1"/><circle cx="224.7" cy="137.7" r="2.1"/><circle cx="221.6" cy="142.2" r="2.1"/><circle cx="220.1" cy="138.8" r="2.1"/><circle cx="219.5" cy="137.8" r="2.1"/><circle cx="235.2" cy="144.6" r="2.1"/><circle cx="232.9" cy="143.2" r="2.1"/><circle cx="227.0" cy="139.9" r="2.1"/><circle cx="228.9" cy="146.5" r="2.1"/><circle cx="227.5" cy="145.2" r="2.1"/><circle cx="235.9" cy="142.4" r="2.1"/><circle cx="231.3" cy="137.4" r="2.1"/><circle cx="232.3" cy="139.1" r="2.1"/><circle cx="235.8" cy="145.6" r="2.1"/><circle cx="227.7" cy="139.4" r="2.1"/><circle cx="237.2" cy="139.6" r="2.1"/><circle cx="236.6" cy="139.9" r="2.1"/><circle cx="237.9" cy="140.6" r="2.1"/><circle cx="237.2" cy="142.9" r="2.1"/><circle cx="239.4" cy="144.8" r="2.1"/></g><g fill="none" stroke="#0072BD" stroke-width="1.0"><circle cx="61.2" cy="17.4" r="2.1"/><circle cx="70.4" cy="16.5" r="2.1"/><circle cx="79.3" cy="22.6" r="2.1"/><circle cx="71.3" cy="26.8" r="2.1"/><circle cx="46.4" cy="38.3" r="2.1"/><circle cx="79.3" cy="45.0" r="2.1"/><circle cx="65.3" cy="54.1" r="2.1"/><circle cx="93.4" cy="54.1" r="2.1"/><circle cx="85.3" cy="58.9" r="2.1"/><circle cx="96.7" cy="60.9" r="2.1"/><circle cx="91.4" cy="63.6" r="2.1"/><circle cx="38.9" cy="67.5" r="2.1"/><circle cx="92.3" cy="68.2" r="2.1"/><circle cx="52.5" cy="69.4" r="2.1"/><circle cx="54.6" cy="71.2" r="2.1"/><circle cx="56.0" cy="68.7" r="2.1"/><circle cx="59.8" cy="68.7" r="2.1"/><circle cx="48.4" cy="72.2" r="2.1"/><circle cx="49.4" cy="74.5" r="2.1"/><circle cx="58.4" cy="80.1" r="2.1"/><circle cx="47.4" cy="85.2" r="2.1"/><circle cx="66.7" cy="85.6" r="2.1"/><circle cx="68.3" cy="85.9" r="2.1"/><circle cx="70.8" cy="87.0" r="2.1"/><circle cx="84.1" cy="76.0" r="2.1"/><circle cx="88.6" cy="77.7" r="2.1"/><circle cx="93.3" cy="82.2" r="2.1"/><circle cx="104.0" cy="80.1" r="2.1"/><circle cx="109.2" cy="81.8" r="2.1"/><circle cx="49.8" cy="95.7" r="2.1"/><circle cx="55.3" cy="97.8" r="2.1"/><circle cx="61.4" cy="99.8" r="2.1"/><circle cx="65.8" cy="95.0" r="2.1"/><circle cx="51.2" cy="104.6" r="2.1"/><circle cx="59.8" cy="107.8" r="2.1"/><circle cx="70.4" cy="103.3" r="2.1"/><circle cx="77.2" cy="102.3" r="2.1"/><circle cx="92.3" cy="99.1" r="2.1"/><circle cx="104.3" cy="98.2" r="2.1"/><circle cx="109.5" cy="101.3" r="2.1"/><circle cx="42.2" cy="113.3" r="2.1"/><circle cx="55.7" cy="113.7" r="2.1"/><circle cx="60.3" cy="116.7" r="2.1"/><circle cx="71.3" cy="111.2" r="2.1"/><circle cx="76.1" cy="109.2" r="2.1"/><circle cx="80.7" cy="112.9" r="2.1"/><circle cx="83.1" cy="115.3" r="2.1"/><circle cx="85.5" cy="113.7" r="2.1"/><circle cx="92.3" cy="107.1" r="2.1"/><circle cx="95.5" cy="108.5" r="2.1"/><circle cx="94.1" cy="111.9" r="2.1"/><circle cx="98.8" cy="115.1" r="2.1"/><circle cx="93.3" cy="117.1" r="2.1"/><circle cx="82.0" cy="119.2" r="2.1"/><circle cx="45.7" cy="120.1" r="2.1"/><circle cx="97.8" cy="121.5" r="2.1"/><circle cx="107.4" cy="120.1" r="2.1"/><circle cx="107.4" cy="124.2" r="2.1"/><circle cx="51.2" cy="130.6" r="2.1"/><circle cx="63.1" cy="127.3" r="2.1"/><circle cx="63.1" cy="129.0" r="2.1"/><circle cx="72.4" cy="130.6" r="2.1"/><circle cx="76.8" cy="132.4" r="2.1"/><circle cx="62.1" cy="135.2" r="2.1"/><circle cx="89.6" cy="124.2" r="2.1"/><circle cx="88.2" cy="127.9" r="2.1"/><circle cx="91.6" cy="126.9" r="2.1"/><circle cx="94.4" cy="125.5" r="2.1"/><circle cx="96.4" cy="123.5" r="2.1"/><circle cx="98.5" cy="122.1" r="2.1"/><circle cx="93.3" cy="130.4" r="2.1"/><circle cx="86.8" cy="133.1" r="2.1"/><circle cx="80.7" cy="137.2" r="2.1"/><circle cx="75.2" cy="137.9" r="2.1"/><circle cx="88.2" cy="137.2" r="2.1"/><circle cx="90.3" cy="135.8" r="2.1"/><circle cx="92.3" cy="137.2" r="2.1"/><circle cx="88.2" cy="140.4" r="2.1"/><circle cx="109.5" cy="137.9" r="2.1"/><circle cx="116.3" cy="137.9" r="2.1"/><circle cx="40.2" cy="144.5" r="2.1"/><circle cx="44.3" cy="143.4" r="2.1"/><circle cx="47.0" cy="142.0" r="2.1"/><circle cx="50.5" cy="142.7" r="2.1"/><circle cx="68.6" cy="143.4" r="2.1"/><circle cx="84.1" cy="145.4" r="2.1"/><circle cx="49.8" cy="148.8" r="2.1"/><circle cx="55.7" cy="148.5" r="2.1"/><circle cx="62.1" cy="152.2" r="2.1"/><circle cx="65.8" cy="150.2" r="2.1"/><circle cx="62.8" cy="156.1" r="2.1"/><circle cx="66.2" cy="157.7" r="2.1"/><circle cx="66.9" cy="162.5" r="2.1"/><circle cx="67.6" cy="164.6" r="2.1"/><circle cx="75.2" cy="148.8" r="2.1"/><circle cx="79.0" cy="149.5" r="2.1"/><circle cx="83.4" cy="149.5" r="2.1"/><circle cx="85.0" cy="148.8" r="2.1"/><circle cx="84.5" cy="145.1" r="2.1"/><circle cx="80.7" cy="154.7" r="2.1"/><circle cx="80.7" cy="159.1" r="2.1"/><circle cx="75.9" cy="161.2" r="2.1"/><circle cx="75.2" cy="162.5" r="2.1"/><circle cx="76.5" cy="163.2" r="2.1"/><circle cx="91.4" cy="151.5" r="2.1"/><circle cx="91.4" cy="154.3" r="2.1"/><circle cx="96.4" cy="148.8" r="2.1"/><circle cx="98.5" cy="151.5" r="2.1"/><circle cx="90.3" cy="158.1" r="2.1"/><circle cx="92.7" cy="159.1" r="2.1"/><circle cx="97.4" cy="158.4" r="2.1"/><circle cx="101.2" cy="165.3" r="2.1"/><circle cx="85.5" cy="165.3" r="2.1"/><circle cx="87.5" cy="168.0" r="2.1"/><circle cx="112.2" cy="155.3" r="2.1"/><circle cx="115.0" cy="152.9" r="2.1"/><circle cx="40.9" cy="163.9" r="2.1"/><circle cx="45.0" cy="164.6" r="2.1"/><circle cx="47.0" cy="165.3" r="2.1"/><circle cx="49.8" cy="163.9" r="2.1"/><circle cx="53.2" cy="168.7" r="2.1"/><circle cx="55.7" cy="168.0" r="2.1"/><circle cx="74.5" cy="171.4" r="2.1"/><circle cx="78.6" cy="171.4" r="2.1"/><circle cx="98.5" cy="170.8" r="2.1"/><circle cx="103.3" cy="172.1" r="2.1"/><circle cx="78.3" cy="175.2" r="2.1"/><circle cx="36.8" cy="179.0" r="2.1"/><circle cx="39.7" cy="176.1" r="2.1"/><circle cx="40.6" cy="179.4" r="2.1"/><circle cx="47.2" cy="179.0" r="2.1"/><circle cx="49.1" cy="179.0" r="2.1"/><circle cx="53.8" cy="178.0" r="2.1"/><circle cx="52.4" cy="182.7" r="2.1"/><circle cx="56.2" cy="185.1" r="2.1"/><circle cx="43.0" cy="186.5" r="2.1"/><circle cx="44.8" cy="189.3" r="2.1"/><circle cx="59.9" cy="180.4" r="2.1"/><circle cx="63.2" cy="178.5" r="2.1"/><circle cx="65.1" cy="180.4" r="2.1"/><circle cx="61.8" cy="185.1" r="2.1"/><circle cx="60.9" cy="188.4" r="2.1"/><circle cx="68.9" cy="179.0" r="2.1"/><circle cx="68.0" cy="181.3" r="2.1"/><circle cx="70.3" cy="182.7" r="2.1"/><circle cx="73.6" cy="182.7" r="2.1"/><circle cx="76.9" cy="182.3" r="2.1"/><circle cx="80.7" cy="180.4" r="2.1"/><circle cx="80.2" cy="188.4" r="2.1"/><circle cx="68.4" cy="191.2" r="2.1"/><circle cx="71.3" cy="192.2" r="2.1"/><circle cx="73.6" cy="194.1" r="2.1"/><circle cx="68.0" cy="196.9" r="2.1"/><circle cx="69.8" cy="197.4" r="2.1"/><circle cx="80.2" cy="195.0" r="2.1"/><circle cx="35.9" cy="195.9" r="2.1"/><circle cx="43.4" cy="196.9" r="2.1"/><circle cx="46.7" cy="197.4" r="2.1"/><circle cx="52.4" cy="195.5" r="2.1"/><circle cx="53.8" cy="196.9" r="2.1"/><circle cx="58.5" cy="195.9" r="2.1"/><circle cx="99.3" cy="174.2" r="2.1"/><circle cx="103.6" cy="173.6" r="2.1"/><circle cx="89.4" cy="177.5" r="2.1"/><circle cx="107.4" cy="177.5" r="2.1"/><circle cx="113.5" cy="181.5" r="2.1"/><circle cx="81.9" cy="179.9" r="2.1"/><circle cx="85.2" cy="181.3" r="2.1"/><circle cx="82.8" cy="185.1" r="2.1"/><circle cx="98.9" cy="185.6" r="2.1"/><circle cx="109.2" cy="186.2" r="2.1"/><circle cx="116.8" cy="190.9" r="2.1"/><circle cx="90.8" cy="188.9" r="2.1"/><circle cx="93.2" cy="192.6" r="2.1"/><circle cx="97.5" cy="192.6" r="2.1"/><circle cx="102.6" cy="190.3" r="2.1"/><circle cx="83.8" cy="191.2" r="2.1"/><circle cx="80.9" cy="193.6" r="2.1"/><circle cx="82.8" cy="195.5" r="2.1"/><circle cx="87.5" cy="196.4" r="2.1"/><circle cx="98.4" cy="197.4" r="2.1"/><circle cx="105.9" cy="196.0" r="2.1"/><circle cx="92.3" cy="197.8" r="2.1"/><circle cx="53.2" cy="263.5" r="2.1"/><circle cx="62.1" cy="262.8" r="2.1"/><circle cx="69.0" cy="262.1" r="2.1"/><circle cx="80.6" cy="265.5" r="2.1"/><circle cx="84.8" cy="264.2" r="2.1"/><circle cx="90.2" cy="264.2" r="2.1"/><circle cx="40.2" cy="185.5" r="2.1"/><circle cx="50.8" cy="194.9" r="2.1"/><circle cx="46.4" cy="185.8" r="2.1"/><circle cx="52.9" cy="186.6" r="2.1"/><circle cx="60.1" cy="191.5" r="2.1"/><circle cx="55.6" cy="194.2" r="2.1"/><circle cx="64.3" cy="191.8" r="2.1"/><circle cx="66.6" cy="190.3" r="2.1"/><circle cx="71.1" cy="187.0" r="2.1"/><circle cx="67.7" cy="184.2" r="2.1"/><circle cx="73.1" cy="195.8" r="2.1"/><circle cx="76.8" cy="197.5" r="2.1"/><circle cx="71.5" cy="190.9" r="2.1"/><circle cx="75.4" cy="185.2" r="2.1"/><circle cx="76.9" cy="190.9" r="2.1"/><circle cx="84.9" cy="194.6" r="2.1"/><circle cx="80.4" cy="195.4" r="2.1"/><circle cx="86.7" cy="195.3" r="2.1"/><circle cx="83.7" cy="198.0" r="2.1"/><circle cx="87.9" cy="195.9" r="2.1"/><circle cx="92.0" cy="185.7" r="2.1"/><circle cx="94.2" cy="186.2" r="2.1"/><circle cx="95.4" cy="187.7" r="2.1"/><circle cx="90.3" cy="190.5" r="2.1"/><circle cx="103.3" cy="185.8" r="2.1"/><circle cx="102.0" cy="189.7" r="2.1"/><circle cx="35.0" cy="210.0" r="2.1"/><circle cx="37.5" cy="214.6" r="2.1"/><circle cx="42.0" cy="210.2" r="2.1"/><circle cx="52.6" cy="206.1" r="2.1"/><circle cx="49.2" cy="205.1" r="2.1"/><circle cx="49.9" cy="214.6" r="2.1"/><circle cx="47.7" cy="212.9" r="2.1"/><circle cx="56.5" cy="215.6" r="2.1"/><circle cx="61.7" cy="213.3" r="2.1"/><circle cx="59.0" cy="211.7" r="2.1"/><circle cx="60.8" cy="204.7" r="2.1"/><circle cx="54.0" cy="201.1" r="2.1"/><circle cx="61.5" cy="200.0" r="2.1"/><circle cx="67.2" cy="214.7" r="2.1"/><circle cx="63.8" cy="199.5" r="2.1"/><circle cx="67.1" cy="214.0" r="2.1"/><circle cx="70.1" cy="205.1" r="2.1"/><circle cx="67.2" cy="210.2" r="2.1"/><circle cx="65.8" cy="212.9" r="2.1"/><circle cx="62.3" cy="200.5" r="2.1"/><circle cx="66.3" cy="206.9" r="2.1"/><circle cx="65.0" cy="202.9" r="2.1"/><circle cx="71.4" cy="210.3" r="2.1"/><circle cx="71.4" cy="215.1" r="2.1"/><circle cx="80.0" cy="204.7" r="2.1"/><circle cx="75.1" cy="207.4" r="2.1"/><circle cx="79.2" cy="210.8" r="2.1"/><circle cx="76.6" cy="204.2" r="2.1"/><circle cx="74.4" cy="207.4" r="2.1"/><circle cx="78.2" cy="199.9" r="2.1"/><circle cx="72.6" cy="199.4" r="2.1"/><circle cx="71.2" cy="202.9" r="2.1"/><circle cx="78.6" cy="214.9" r="2.1"/><circle cx="84.2" cy="201.7" r="2.1"/><circle cx="80.5" cy="205.3" r="2.1"/><circle cx="87.6" cy="207.6" r="2.1"/><circle cx="87.0" cy="213.1" r="2.1"/><circle cx="82.2" cy="210.5" r="2.1"/><circle cx="82.0" cy="210.8" r="2.1"/><circle cx="89.0" cy="206.4" r="2.1"/><circle cx="83.5" cy="212.3" r="2.1"/><circle cx="89.1" cy="208.9" r="2.1"/><circle cx="89.3" cy="207.5" r="2.1"/><circle cx="85.1" cy="200.1" r="2.1"/><circle cx="87.1" cy="206.2" r="2.1"/><circle cx="84.2" cy="200.5" r="2.1"/><circle cx="84.1" cy="199.6" r="2.1"/><circle cx="90.1" cy="209.2" r="2.1"/><circle cx="94.3" cy="199.1" r="2.1"/><circle cx="91.8" cy="201.9" r="2.1"/><circle cx="95.7" cy="203.6" r="2.1"/><circle cx="95.3" cy="198.7" r="2.1"/><circle cx="92.6" cy="209.8" r="2.1"/><circle cx="91.4" cy="216.5" r="2.1"/><circle cx="91.5" cy="199.7" r="2.1"/><circle cx="97.2" cy="215.3" r="2.1"/><circle cx="95.0" cy="208.2" r="2.1"/><circle cx="95.0" cy="204.7" r="2.1"/><circle cx="92.3" cy="198.9" r="2.1"/><circle cx="93.8" cy="205.3" r="2.1"/><circle cx="104.5" cy="214.0" r="2.1"/><circle cx="99.2" cy="209.5" r="2.1"/><circle cx="105.7" cy="201.7" r="2.1"/><circle cx="105.4" cy="215.3" r="2.1"/><circle cx="107.0" cy="201.9" r="2.1"/><circle cx="106.7" cy="207.4" r="2.1"/><circle cx="107.1" cy="216.6" r="2.1"/><circle cx="98.9" cy="217.1" r="2.1"/><circle cx="110.2" cy="212.7" r="2.1"/><circle cx="109.6" cy="206.5" r="2.1"/><circle cx="108.2" cy="206.1" r="2.1"/><circle cx="36.0" cy="221.8" r="2.1"/><circle cx="34.7" cy="226.8" r="2.1"/><circle cx="52.3" cy="223.7" r="2.1"/><circle cx="51.1" cy="222.1" r="2.1"/><circle cx="49.3" cy="228.4" r="2.1"/><circle cx="48.9" cy="230.4" r="2.1"/><circle cx="60.2" cy="218.1" r="2.1"/><circle cx="60.7" cy="230.2" r="2.1"/><circle cx="55.9" cy="226.7" r="2.1"/><circle cx="53.9" cy="222.5" r="2.1"/><circle cx="60.1" cy="226.7" r="2.1"/><circle cx="60.7" cy="220.2" r="2.1"/><circle cx="63.2" cy="220.6" r="2.1"/><circle cx="70.1" cy="228.3" r="2.1"/><circle cx="67.3" cy="222.4" r="2.1"/><circle cx="67.6" cy="229.6" r="2.1"/><circle cx="68.1" cy="222.5" r="2.1"/><circle cx="69.6" cy="220.2" r="2.1"/><circle cx="65.0" cy="221.2" r="2.1"/><circle cx="70.0" cy="219.0" r="2.1"/><circle cx="72.6" cy="230.6" r="2.1"/><circle cx="77.1" cy="228.0" r="2.1"/><circle cx="76.3" cy="218.3" r="2.1"/><circle cx="74.6" cy="227.5" r="2.1"/><circle cx="75.4" cy="222.1" r="2.1"/><circle cx="72.1" cy="225.8" r="2.1"/><circle cx="72.4" cy="222.0" r="2.1"/><circle cx="78.8" cy="225.9" r="2.1"/><circle cx="74.6" cy="223.7" r="2.1"/><circle cx="73.1" cy="227.6" r="2.1"/><circle cx="83.4" cy="224.8" r="2.1"/><circle cx="81.1" cy="220.8" r="2.1"/><circle cx="85.6" cy="226.9" r="2.1"/><circle cx="81.0" cy="220.7" r="2.1"/><circle cx="81.5" cy="229.1" r="2.1"/><circle cx="81.5" cy="229.8" r="2.1"/><circle cx="88.6" cy="227.3" r="2.1"/><circle cx="83.1" cy="219.8" r="2.1"/><circle cx="86.0" cy="228.4" r="2.1"/><circle cx="84.3" cy="219.1" r="2.1"/><circle cx="83.8" cy="221.4" r="2.1"/><circle cx="81.2" cy="221.2" r="2.1"/><circle cx="87.5" cy="219.9" r="2.1"/><circle cx="86.5" cy="226.0" r="2.1"/><circle cx="80.9" cy="224.0" r="2.1"/><circle cx="96.4" cy="228.4" r="2.1"/><circle cx="91.9" cy="223.7" r="2.1"/><circle cx="96.4" cy="218.9" r="2.1"/><circle cx="90.7" cy="228.5" r="2.1"/><circle cx="96.8" cy="222.3" r="2.1"/><circle cx="96.1" cy="217.6" r="2.1"/><circle cx="98.1" cy="219.6" r="2.1"/><circle cx="96.6" cy="225.6" r="2.1"/><circle cx="95.4" cy="228.4" r="2.1"/><circle cx="96.5" cy="220.8" r="2.1"/><circle cx="96.1" cy="225.0" r="2.1"/><circle cx="93.0" cy="225.3" r="2.1"/><circle cx="89.8" cy="219.6" r="2.1"/><circle cx="94.5" cy="225.7" r="2.1"/><circle cx="94.5" cy="221.3" r="2.1"/><circle cx="102.2" cy="219.8" r="2.1"/><circle cx="107.1" cy="225.7" r="2.1"/><circle cx="99.9" cy="220.7" r="2.1"/><circle cx="107.8" cy="228.9" r="2.1"/><circle cx="105.2" cy="219.9" r="2.1"/><circle cx="107.1" cy="229.3" r="2.1"/><circle cx="99.5" cy="217.7" r="2.1"/><circle cx="99.7" cy="228.6" r="2.1"/><circle cx="113.1" cy="224.9" r="2.1"/><circle cx="114.7" cy="228.4" r="2.1"/><circle cx="125.4" cy="228.0" r="2.1"/><circle cx="41.6" cy="243.4" r="2.1"/><circle cx="38.8" cy="243.9" r="2.1"/><circle cx="37.4" cy="240.1" r="2.1"/><circle cx="50.3" cy="238.2" r="2.1"/><circle cx="44.2" cy="231.0" r="2.1"/><circle cx="51.8" cy="232.0" r="2.1"/><circle cx="45.9" cy="239.0" r="2.1"/><circle cx="54.9" cy="242.6" r="2.1"/><circle cx="53.1" cy="237.6" r="2.1"/><circle cx="54.0" cy="242.0" r="2.1"/><circle cx="60.7" cy="237.8" r="2.1"/><circle cx="54.5" cy="235.3" r="2.1"/><circle cx="64.4" cy="237.3" r="2.1"/><circle cx="64.6" cy="237.4" r="2.1"/><circle cx="67.8" cy="237.1" r="2.1"/><circle cx="65.6" cy="233.7" r="2.1"/><circle cx="70.0" cy="241.9" r="2.1"/><circle cx="63.3" cy="242.8" r="2.1"/><circle cx="71.0" cy="231.7" r="2.1"/><circle cx="64.1" cy="231.3" r="2.1"/><circle cx="73.1" cy="237.5" r="2.1"/><circle cx="75.7" cy="232.1" r="2.1"/><circle cx="71.5" cy="240.1" r="2.1"/><circle cx="76.7" cy="243.4" r="2.1"/><circle cx="73.3" cy="238.1" r="2.1"/><circle cx="79.2" cy="234.1" r="2.1"/><circle cx="78.8" cy="234.1" r="2.1"/><circle cx="77.7" cy="232.9" r="2.1"/><circle cx="77.4" cy="234.5" r="2.1"/><circle cx="73.9" cy="242.1" r="2.1"/><circle cx="78.1" cy="242.1" r="2.1"/><circle cx="79.6" cy="236.3" r="2.1"/><circle cx="83.4" cy="231.8" r="2.1"/><circle cx="81.8" cy="237.4" r="2.1"/><circle cx="81.2" cy="231.4" r="2.1"/><circle cx="85.6" cy="233.5" r="2.1"/><circle cx="82.9" cy="233.6" r="2.1"/><circle cx="86.8" cy="235.7" r="2.1"/><circle cx="89.0" cy="238.5" r="2.1"/><circle cx="84.1" cy="235.0" r="2.1"/><circle cx="88.0" cy="239.8" r="2.1"/><circle cx="86.5" cy="241.5" r="2.1"/><circle cx="85.4" cy="234.0" r="2.1"/><circle cx="80.9" cy="234.6" r="2.1"/><circle cx="80.5" cy="231.5" r="2.1"/><circle cx="84.6" cy="238.8" r="2.1"/><circle cx="86.9" cy="237.3" r="2.1"/><circle cx="87.0" cy="243.2" r="2.1"/><circle cx="85.5" cy="236.8" r="2.1"/><circle cx="88.9" cy="243.8" r="2.1"/><circle cx="84.5" cy="235.9" r="2.1"/><circle cx="85.4" cy="243.3" r="2.1"/><circle cx="85.8" cy="241.3" r="2.1"/><circle cx="82.1" cy="232.5" r="2.1"/><circle cx="82.1" cy="238.2" r="2.1"/><circle cx="87.2" cy="234.8" r="2.1"/><circle cx="85.4" cy="233.5" r="2.1"/><circle cx="84.6" cy="236.0" r="2.1"/><circle cx="87.8" cy="235.2" r="2.1"/><circle cx="86.2" cy="238.9" r="2.1"/><circle cx="85.5" cy="239.0" r="2.1"/><circle cx="87.2" cy="239.2" r="2.1"/><circle cx="93.8" cy="234.2" r="2.1"/><circle cx="94.1" cy="239.8" r="2.1"/><circle cx="97.1" cy="239.2" r="2.1"/><circle cx="97.2" cy="233.8" r="2.1"/><circle cx="93.6" cy="234.8" r="2.1"/><circle cx="89.8" cy="239.1" r="2.1"/><circle cx="97.4" cy="236.6" r="2.1"/><circle cx="94.6" cy="235.4" r="2.1"/><circle cx="95.7" cy="236.5" r="2.1"/><circle cx="93.4" cy="241.9" r="2.1"/><circle cx="92.2" cy="240.4" r="2.1"/><circle cx="93.5" cy="230.9" r="2.1"/><circle cx="92.7" cy="238.3" r="2.1"/><circle cx="92.9" cy="236.5" r="2.1"/><circle cx="98.2" cy="232.4" r="2.1"/><circle cx="93.0" cy="240.7" r="2.1"/><circle cx="97.6" cy="237.7" r="2.1"/><circle cx="95.8" cy="243.3" r="2.1"/><circle cx="97.4" cy="240.1" r="2.1"/><circle cx="94.0" cy="241.7" r="2.1"/><circle cx="93.4" cy="233.2" r="2.1"/><circle cx="97.1" cy="238.0" r="2.1"/><circle cx="96.5" cy="238.2" r="2.1"/><circle cx="92.9" cy="237.0" r="2.1"/><circle cx="91.3" cy="240.1" r="2.1"/><circle cx="96.0" cy="234.0" r="2.1"/><circle cx="90.0" cy="234.5" r="2.1"/><circle cx="97.0" cy="238.4" r="2.1"/><circle cx="90.1" cy="235.2" r="2.1"/><circle cx="91.8" cy="235.7" r="2.1"/><circle cx="93.0" cy="235.8" r="2.1"/><circle cx="91.9" cy="237.9" r="2.1"/><circle cx="94.3" cy="235.9" r="2.1"/><circle cx="91.4" cy="231.4" r="2.1"/><circle cx="92.2" cy="240.2" r="2.1"/><circle cx="91.9" cy="243.4" r="2.1"/><circle cx="93.4" cy="234.0" r="2.1"/><circle cx="96.0" cy="241.7" r="2.1"/><circle cx="90.8" cy="240.0" r="2.1"/><circle cx="96.5" cy="237.8" r="2.1"/><circle cx="107.1" cy="235.5" r="2.1"/><circle cx="104.4" cy="234.0" r="2.1"/><circle cx="105.5" cy="239.7" r="2.1"/><circle cx="101.0" cy="238.5" r="2.1"/><circle cx="103.2" cy="242.4" r="2.1"/><circle cx="102.7" cy="235.7" r="2.1"/><circle cx="99.9" cy="242.5" r="2.1"/><circle cx="100.3" cy="240.5" r="2.1"/><circle cx="107.5" cy="244.0" r="2.1"/><circle cx="100.4" cy="242.1" r="2.1"/><circle cx="103.0" cy="244.1" r="2.1"/><circle cx="102.9" cy="242.1" r="2.1"/><circle cx="101.1" cy="233.7" r="2.1"/><circle cx="100.4" cy="236.0" r="2.1"/><circle cx="102.4" cy="238.7" r="2.1"/><circle cx="106.2" cy="242.2" r="2.1"/><circle cx="107.1" cy="232.3" r="2.1"/><circle cx="104.8" cy="243.7" r="2.1"/><circle cx="104.7" cy="236.3" r="2.1"/><circle cx="105.7" cy="241.5" r="2.1"/><circle cx="107.4" cy="232.4" r="2.1"/><circle cx="99.7" cy="240.1" r="2.1"/><circle cx="99.0" cy="233.2" r="2.1"/><circle cx="107.1" cy="231.1" r="2.1"/><circle cx="104.3" cy="235.4" r="2.1"/><circle cx="104.9" cy="236.7" r="2.1"/><circle cx="107.4" cy="236.2" r="2.1"/><circle cx="101.7" cy="237.4" r="2.1"/><circle cx="98.8" cy="234.6" r="2.1"/><circle cx="105.0" cy="238.7" r="2.1"/><circle cx="106.5" cy="234.2" r="2.1"/><circle cx="101.8" cy="243.3" r="2.1"/><circle cx="99.9" cy="241.8" r="2.1"/><circle cx="101.5" cy="238.3" r="2.1"/><circle cx="107.2" cy="240.6" r="2.1"/><circle cx="116.1" cy="235.2" r="2.1"/><circle cx="115.7" cy="238.9" r="2.1"/><circle cx="107.9" cy="233.8" r="2.1"/><circle cx="110.1" cy="242.4" r="2.1"/><circle cx="115.2" cy="235.1" r="2.1"/><circle cx="109.8" cy="240.7" r="2.1"/><circle cx="116.4" cy="240.7" r="2.1"/><circle cx="114.3" cy="242.6" r="2.1"/><circle cx="115.3" cy="242.7" r="2.1"/><circle cx="112.6" cy="243.8" r="2.1"/><circle cx="112.9" cy="233.0" r="2.1"/><circle cx="108.6" cy="240.6" r="2.1"/><circle cx="114.8" cy="236.2" r="2.1"/><circle cx="110.7" cy="235.9" r="2.1"/><circle cx="121.2" cy="232.8" r="2.1"/><circle cx="119.7" cy="234.2" r="2.1"/><circle cx="122.8" cy="234.4" r="2.1"/><circle cx="120.5" cy="234.6" r="2.1"/><circle cx="123.4" cy="239.1" r="2.1"/><circle cx="117.2" cy="231.4" r="2.1"/><circle cx="41.0" cy="255.0" r="2.1"/><circle cx="41.2" cy="254.0" r="2.1"/><circle cx="38.8" cy="246.2" r="2.1"/><circle cx="38.6" cy="253.9" r="2.1"/><circle cx="46.5" cy="256.7" r="2.1"/><circle cx="45.7" cy="254.1" r="2.1"/><circle cx="45.3" cy="256.9" r="2.1"/><circle cx="47.9" cy="254.8" r="2.1"/><circle cx="50.4" cy="245.4" r="2.1"/><circle cx="55.3" cy="250.0" r="2.1"/><circle cx="57.5" cy="256.7" r="2.1"/><circle cx="54.0" cy="245.9" r="2.1"/><circle cx="57.2" cy="246.9" r="2.1"/><circle cx="53.4" cy="249.7" r="2.1"/><circle cx="60.8" cy="246.1" r="2.1"/><circle cx="52.9" cy="250.7" r="2.1"/><circle cx="65.4" cy="247.5" r="2.1"/><circle cx="62.7" cy="254.2" r="2.1"/><circle cx="69.5" cy="251.4" r="2.1"/><circle cx="66.2" cy="244.7" r="2.1"/><circle cx="64.9" cy="257.2" r="2.1"/><circle cx="65.6" cy="255.7" r="2.1"/><circle cx="62.8" cy="250.1" r="2.1"/><circle cx="70.7" cy="249.9" r="2.1"/><circle cx="67.9" cy="253.4" r="2.1"/><circle cx="67.2" cy="247.6" r="2.1"/><circle cx="67.4" cy="247.0" r="2.1"/><circle cx="76.2" cy="255.1" r="2.1"/><circle cx="76.5" cy="251.1" r="2.1"/><circle cx="72.7" cy="249.4" r="2.1"/><circle cx="78.7" cy="255.9" r="2.1"/><circle cx="76.2" cy="247.9" r="2.1"/><circle cx="74.9" cy="254.1" r="2.1"/><circle cx="74.6" cy="250.5" r="2.1"/><circle cx="77.5" cy="250.2" r="2.1"/><circle cx="72.1" cy="246.8" r="2.1"/><circle cx="79.6" cy="256.4" r="2.1"/><circle cx="73.5" cy="255.4" r="2.1"/><circle cx="79.0" cy="245.5" r="2.1"/><circle cx="71.6" cy="253.3" r="2.1"/><circle cx="72.9" cy="251.4" r="2.1"/><circle cx="79.6" cy="256.8" r="2.1"/><circle cx="72.7" cy="251.2" r="2.1"/><circle cx="85.1" cy="247.7" r="2.1"/><circle cx="84.3" cy="255.8" r="2.1"/><circle cx="83.6" cy="244.6" r="2.1"/><circle cx="87.2" cy="256.2" r="2.1"/><circle cx="87.7" cy="253.5" r="2.1"/><circle cx="87.5" cy="257.5" r="2.1"/><circle cx="88.3" cy="255.5" r="2.1"/><circle cx="84.5" cy="248.8" r="2.1"/><circle cx="85.0" cy="255.5" r="2.1"/><circle cx="81.6" cy="253.9" r="2.1"/><circle cx="80.8" cy="254.8" r="2.1"/><circle cx="81.5" cy="251.5" r="2.1"/><circle cx="83.6" cy="249.8" r="2.1"/><circle cx="82.9" cy="257.3" r="2.1"/><circle cx="83.4" cy="247.6" r="2.1"/><circle cx="82.7" cy="252.3" r="2.1"/><circle cx="87.3" cy="252.3" r="2.1"/><circle cx="88.5" cy="245.4" r="2.1"/><circle cx="83.2" cy="247.9" r="2.1"/><circle cx="82.7" cy="255.8" r="2.1"/><circle cx="84.3" cy="249.6" r="2.1"/><circle cx="88.9" cy="255.8" r="2.1"/><circle cx="86.9" cy="251.3" r="2.1"/><circle cx="81.5" cy="244.7" r="2.1"/><circle cx="86.7" cy="256.0" r="2.1"/><circle cx="88.6" cy="256.3" r="2.1"/><circle cx="81.2" cy="253.3" r="2.1"/><circle cx="88.9" cy="257.3" r="2.1"/><circle cx="88.8" cy="249.5" r="2.1"/><circle cx="80.9" cy="250.1" r="2.1"/><circle cx="84.5" cy="250.2" r="2.1"/><circle cx="87.1" cy="248.6" r="2.1"/><circle cx="89.5" cy="255.6" r="2.1"/><circle cx="87.8" cy="252.2" r="2.1"/><circle cx="87.5" cy="245.8" r="2.1"/><circle cx="98.6" cy="254.1" r="2.1"/><circle cx="93.7" cy="245.1" r="2.1"/><circle cx="98.2" cy="252.7" r="2.1"/><circle cx="98.1" cy="252.3" r="2.1"/><circle cx="92.9" cy="247.6" r="2.1"/><circle cx="93.8" cy="251.7" r="2.1"/><circle cx="93.0" cy="251.9" r="2.1"/><circle cx="90.8" cy="256.9" r="2.1"/><circle cx="96.4" cy="250.1" r="2.1"/><circle cx="95.7" cy="247.0" r="2.1"/><circle cx="91.6" cy="254.6" r="2.1"/><circle cx="92.0" cy="253.6" r="2.1"/><circle cx="96.5" cy="252.7" r="2.1"/><circle cx="92.5" cy="249.2" r="2.1"/><circle cx="91.2" cy="256.3" r="2.1"/><circle cx="95.9" cy="247.6" r="2.1"/><circle cx="92.2" cy="249.2" r="2.1"/><circle cx="89.8" cy="252.3" r="2.1"/><circle cx="94.8" cy="254.3" r="2.1"/><circle cx="92.7" cy="249.5" r="2.1"/><circle cx="94.9" cy="255.6" r="2.1"/><circle cx="96.0" cy="256.6" r="2.1"/><circle cx="98.4" cy="255.0" r="2.1"/><circle cx="91.8" cy="255.0" r="2.1"/><circle cx="98.6" cy="253.9" r="2.1"/><circle cx="95.1" cy="244.4" r="2.1"/><circle cx="98.2" cy="257.1" r="2.1"/><circle cx="94.3" cy="249.7" r="2.1"/><circle cx="95.9" cy="253.2" r="2.1"/><circle cx="92.5" cy="257.7" r="2.1"/><circle cx="89.8" cy="250.3" r="2.1"/><circle cx="90.2" cy="255.0" r="2.1"/><circle cx="92.6" cy="256.8" r="2.1"/><circle cx="89.8" cy="245.3" r="2.1"/><circle cx="93.5" cy="255.0" r="2.1"/><circle cx="96.0" cy="257.6" r="2.1"/><circle cx="91.7" cy="244.8" r="2.1"/><circle cx="97.7" cy="249.2" r="2.1"/><circle cx="90.4" cy="253.4" r="2.1"/><circle cx="89.8" cy="254.8" r="2.1"/><circle cx="89.7" cy="256.0" r="2.1"/><circle cx="95.3" cy="256.4" r="2.1"/><circle cx="90.9" cy="245.6" r="2.1"/><circle cx="92.6" cy="253.2" r="2.1"/><circle cx="90.3" cy="247.0" r="2.1"/><circle cx="95.7" cy="250.4" r="2.1"/><circle cx="95.2" cy="256.4" r="2.1"/><circle cx="91.9" cy="249.9" r="2.1"/><circle cx="98.2" cy="246.8" r="2.1"/><circle cx="104.5" cy="250.8" r="2.1"/><circle cx="98.8" cy="245.8" r="2.1"/><circle cx="99.3" cy="256.0" r="2.1"/><circle cx="105.0" cy="246.8" r="2.1"/><circle cx="105.9" cy="251.7" r="2.1"/><circle cx="100.3" cy="257.2" r="2.1"/><circle cx="106.5" cy="244.6" r="2.1"/><circle cx="100.9" cy="246.1" r="2.1"/><circle cx="102.4" cy="253.5" r="2.1"/><circle cx="103.3" cy="257.6" r="2.1"/><circle cx="102.7" cy="255.0" r="2.1"/><circle cx="105.2" cy="251.0" r="2.1"/><circle cx="106.6" cy="245.7" r="2.1"/><circle cx="101.6" cy="254.0" r="2.1"/><circle cx="107.3" cy="251.0" r="2.1"/><circle cx="99.6" cy="257.1" r="2.1"/><circle cx="107.7" cy="250.0" r="2.1"/><circle cx="99.2" cy="250.9" r="2.1"/><circle cx="103.3" cy="251.9" r="2.1"/><circle cx="107.4" cy="245.0" r="2.1"/><circle cx="99.8" cy="255.7" r="2.1"/><circle cx="102.4" cy="246.5" r="2.1"/><circle cx="104.4" cy="247.9" r="2.1"/><circle cx="103.9" cy="254.9" r="2.1"/><circle cx="106.2" cy="257.5" r="2.1"/><circle cx="105.1" cy="255.1" r="2.1"/><circle cx="103.0" cy="244.6" r="2.1"/><circle cx="103.6" cy="256.9" r="2.1"/><circle cx="102.6" cy="248.9" r="2.1"/><circle cx="99.2" cy="254.3" r="2.1"/><circle cx="98.8" cy="250.5" r="2.1"/><circle cx="102.2" cy="251.0" r="2.1"/><circle cx="101.4" cy="248.9" r="2.1"/><circle cx="100.3" cy="245.6" r="2.1"/><circle cx="107.5" cy="251.1" r="2.1"/><circle cx="102.9" cy="246.2" r="2.1"/><circle cx="101.3" cy="247.0" r="2.1"/><circle cx="101.3" cy="248.1" r="2.1"/><circle cx="101.7" cy="249.6" r="2.1"/><circle cx="107.2" cy="257.0" r="2.1"/><circle cx="106.1" cy="250.5" r="2.1"/><circle cx="102.1" cy="253.0" r="2.1"/><circle cx="99.3" cy="254.2" r="2.1"/><circle cx="104.4" cy="256.4" r="2.1"/><circle cx="104.8" cy="244.8" r="2.1"/><circle cx="107.7" cy="245.8" r="2.1"/><circle cx="106.1" cy="255.3" r="2.1"/><circle cx="107.6" cy="255.0" r="2.1"/><circle cx="106.6" cy="246.0" r="2.1"/><circle cx="104.4" cy="250.7" r="2.1"/><circle cx="100.5" cy="250.8" r="2.1"/><circle cx="110.5" cy="256.0" r="2.1"/><circle cx="109.0" cy="247.0" r="2.1"/><circle cx="116.3" cy="255.8" r="2.1"/><circle cx="108.0" cy="254.2" r="2.1"/><circle cx="109.1" cy="255.2" r="2.1"/><circle cx="113.2" cy="252.1" r="2.1"/><circle cx="111.8" cy="255.0" r="2.1"/><circle cx="113.9" cy="253.8" r="2.1"/><circle cx="111.5" cy="251.5" r="2.1"/><circle cx="116.1" cy="254.4" r="2.1"/><circle cx="114.4" cy="253.6" r="2.1"/><circle cx="116.0" cy="252.4" r="2.1"/><circle cx="112.5" cy="246.0" r="2.1"/><circle cx="114.0" cy="256.4" r="2.1"/><circle cx="109.1" cy="244.4" r="2.1"/><circle cx="108.1" cy="253.7" r="2.1"/><circle cx="116.6" cy="257.5" r="2.1"/><circle cx="109.3" cy="254.9" r="2.1"/><circle cx="108.6" cy="251.4" r="2.1"/><circle cx="113.3" cy="253.4" r="2.1"/><circle cx="108.8" cy="246.8" r="2.1"/><circle cx="115.2" cy="250.2" r="2.1"/><circle cx="109.1" cy="250.5" r="2.1"/><circle cx="113.6" cy="252.0" r="2.1"/><circle cx="115.8" cy="252.5" r="2.1"/><circle cx="112.5" cy="256.2" r="2.1"/><circle cx="113.0" cy="247.4" r="2.1"/><circle cx="114.5" cy="254.3" r="2.1"/><circle cx="116.9" cy="248.1" r="2.1"/><circle cx="111.7" cy="252.2" r="2.1"/><circle cx="115.0" cy="255.4" r="2.1"/><circle cx="113.7" cy="248.1" r="2.1"/><circle cx="112.6" cy="246.0" r="2.1"/><circle cx="112.1" cy="251.5" r="2.1"/><circle cx="110.4" cy="245.4" r="2.1"/><circle cx="110.7" cy="248.4" r="2.1"/><circle cx="111.6" cy="245.2" r="2.1"/><circle cx="116.5" cy="257.3" r="2.1"/><circle cx="117.0" cy="249.6" r="2.1"/><circle cx="108.5" cy="251.1" r="2.1"/><circle cx="108.3" cy="250.4" r="2.1"/><circle cx="109.5" cy="252.8" r="2.1"/><circle cx="110.6" cy="249.6" r="2.1"/><circle cx="115.4" cy="245.2" r="2.1"/><circle cx="110.9" cy="250.1" r="2.1"/><circle cx="107.9" cy="252.7" r="2.1"/><circle cx="116.6" cy="256.1" r="2.1"/><circle cx="115.8" cy="249.0" r="2.1"/><circle cx="110.5" cy="247.3" r="2.1"/><circle cx="119.7" cy="245.7" r="2.1"/><circle cx="117.8" cy="256.1" r="2.1"/><circle cx="123.9" cy="251.7" r="2.1"/><circle cx="118.4" cy="250.8" r="2.1"/><circle cx="119.7" cy="250.4" r="2.1"/><circle cx="123.8" cy="246.2" r="2.1"/><circle cx="117.5" cy="249.8" r="2.1"/><circle cx="124.1" cy="256.4" r="2.1"/><circle cx="125.0" cy="249.9" r="2.1"/><circle cx="125.1" cy="247.2" r="2.1"/><circle cx="125.0" cy="256.9" r="2.1"/><circle cx="123.6" cy="255.1" r="2.1"/><circle cx="119.4" cy="253.4" r="2.1"/><circle cx="122.4" cy="249.3" r="2.1"/><circle cx="125.5" cy="257.5" r="2.1"/><circle cx="118.8" cy="252.9" r="2.1"/><circle cx="124.5" cy="250.3" r="2.1"/><circle cx="121.7" cy="247.5" r="2.1"/><circle cx="123.0" cy="253.8" r="2.1"/><circle cx="117.8" cy="251.5" r="2.1"/><circle cx="125.1" cy="249.7" r="2.1"/><circle cx="117.5" cy="251.8" r="2.1"/><circle cx="120.5" cy="249.9" r="2.1"/><circle cx="122.4" cy="245.0" r="2.1"/><circle cx="120.1" cy="252.2" r="2.1"/><circle cx="122.6" cy="245.8" r="2.1"/><circle cx="123.5" cy="251.4" r="2.1"/><circle cx="124.5" cy="251.2" r="2.1"/><circle cx="118.2" cy="246.6" r="2.1"/><circle cx="119.7" cy="246.4" r="2.1"/><circle cx="122.6" cy="250.9" r="2.1"/><circle cx="117.8" cy="247.2" r="2.1"/><circle cx="117.6" cy="244.8" r="2.1"/><circle cx="125.0" cy="253.7" r="2.1"/><circle cx="118.2" cy="245.8" r="2.1"/><circle cx="121.4" cy="256.0" r="2.1"/><circle cx="121.6" cy="254.4" r="2.1"/><circle cx="120.7" cy="249.1" r="2.1"/><circle cx="125.4" cy="247.0" r="2.1"/><circle cx="118.5" cy="251.3" r="2.1"/><circle cx="121.5" cy="244.5" r="2.1"/><circle cx="117.8" cy="250.9" r="2.1"/><circle cx="125.4" cy="252.4" r="2.1"/><circle cx="46.6" cy="258.7" r="2.1"/><circle cx="53.6" cy="261.6" r="2.1"/><circle cx="55.5" cy="259.0" r="2.1"/><circle cx="70.2" cy="258.6" r="2.1"/><circle cx="65.6" cy="258.2" r="2.1"/><circle cx="68.4" cy="258.8" r="2.1"/><circle cx="70.9" cy="261.5" r="2.1"/><circle cx="79.1" cy="259.8" r="2.1"/><circle cx="74.7" cy="257.8" r="2.1"/><circle cx="76.3" cy="264.1" r="2.1"/><circle cx="80.3" cy="258.9" r="2.1"/><circle cx="72.3" cy="258.8" r="2.1"/><circle cx="79.3" cy="263.1" r="2.1"/><circle cx="77.3" cy="261.3" r="2.1"/><circle cx="75.8" cy="261.2" r="2.1"/><circle cx="77.2" cy="262.8" r="2.1"/><circle cx="84.1" cy="263.8" r="2.1"/><circle cx="86.9" cy="258.5" r="2.1"/><circle cx="81.0" cy="261.6" r="2.1"/><circle cx="84.6" cy="264.1" r="2.1"/><circle cx="86.0" cy="257.9" r="2.1"/><circle cx="86.9" cy="264.9" r="2.1"/><circle cx="88.0" cy="259.7" r="2.1"/><circle cx="83.5" cy="262.8" r="2.1"/><circle cx="85.4" cy="265.2" r="2.1"/><circle cx="86.3" cy="258.2" r="2.1"/><circle cx="81.6" cy="258.2" r="2.1"/><circle cx="86.4" cy="260.4" r="2.1"/><circle cx="86.2" cy="259.4" r="2.1"/><circle cx="83.3" cy="261.6" r="2.1"/><circle cx="82.8" cy="264.3" r="2.1"/><circle cx="90.1" cy="260.5" r="2.1"/><circle cx="96.9" cy="262.2" r="2.1"/><circle cx="92.4" cy="262.3" r="2.1"/><circle cx="90.3" cy="262.2" r="2.1"/><circle cx="94.8" cy="262.8" r="2.1"/><circle cx="96.2" cy="264.9" r="2.1"/><circle cx="90.3" cy="263.8" r="2.1"/><circle cx="95.2" cy="258.8" r="2.1"/><circle cx="92.5" cy="264.6" r="2.1"/><circle cx="94.4" cy="261.8" r="2.1"/><circle cx="95.3" cy="262.0" r="2.1"/><circle cx="93.0" cy="262.0" r="2.1"/><circle cx="92.7" cy="263.0" r="2.1"/><circle cx="93.7" cy="263.6" r="2.1"/><circle cx="89.7" cy="264.4" r="2.1"/><circle cx="90.2" cy="262.3" r="2.1"/><circle cx="90.5" cy="262.8" r="2.1"/><circle cx="90.7" cy="259.2" r="2.1"/><circle cx="96.0" cy="257.9" r="2.1"/><circle cx="92.8" cy="260.5" r="2.1"/><circle cx="90.8" cy="263.3" r="2.1"/><circle cx="97.0" cy="261.1" r="2.1"/><circle cx="97.0" cy="257.8" r="2.1"/><circle cx="95.1" cy="259.4" r="2.1"/><circle cx="98.5" cy="261.2" r="2.1"/><circle cx="92.9" cy="262.8" r="2.1"/><circle cx="95.9" cy="265.2" r="2.1"/><circle cx="95.5" cy="262.1" r="2.1"/><circle cx="93.2" cy="261.1" r="2.1"/><circle cx="96.8" cy="260.2" r="2.1"/><circle cx="98.2" cy="259.9" r="2.1"/><circle cx="97.0" cy="261.4" r="2.1"/><circle cx="96.3" cy="261.8" r="2.1"/><circle cx="95.7" cy="264.2" r="2.1"/><circle cx="101.8" cy="266.7" r="2.1"/><circle cx="100.1" cy="264.5" r="2.1"/><circle cx="102.0" cy="265.5" r="2.1"/><circle cx="106.5" cy="262.0" r="2.1"/><circle cx="104.9" cy="257.9" r="2.1"/><circle cx="100.7" cy="264.3" r="2.1"/><circle cx="99.5" cy="265.8" r="2.1"/><circle cx="105.6" cy="259.5" r="2.1"/><circle cx="103.3" cy="260.4" r="2.1"/><circle cx="102.7" cy="266.4" r="2.1"/><circle cx="101.5" cy="267.0" r="2.1"/><circle cx="107.7" cy="266.6" r="2.1"/><circle cx="100.8" cy="258.5" r="2.1"/><circle cx="99.9" cy="258.2" r="2.1"/><circle cx="106.5" cy="262.4" r="2.1"/><circle cx="101.9" cy="265.7" r="2.1"/><circle cx="107.1" cy="263.9" r="2.1"/><circle cx="107.8" cy="261.4" r="2.1"/><circle cx="100.0" cy="263.7" r="2.1"/><circle cx="107.3" cy="266.6" r="2.1"/><circle cx="104.6" cy="264.9" r="2.1"/><circle cx="98.8" cy="261.5" r="2.1"/><circle cx="101.0" cy="260.6" r="2.1"/><circle cx="103.1" cy="263.9" r="2.1"/><circle cx="102.9" cy="262.1" r="2.1"/><circle cx="107.7" cy="260.4" r="2.1"/><circle cx="99.3" cy="264.5" r="2.1"/><circle cx="107.5" cy="261.1" r="2.1"/><circle cx="106.5" cy="261.7" r="2.1"/><circle cx="101.6" cy="265.9" r="2.1"/><circle cx="102.7" cy="267.2" r="2.1"/><circle cx="102.5" cy="260.8" r="2.1"/><circle cx="99.4" cy="267.4" r="2.1"/><circle cx="103.1" cy="262.0" r="2.1"/><circle cx="104.6" cy="261.4" r="2.1"/><circle cx="101.5" cy="267.3" r="2.1"/><circle cx="105.6" cy="257.8" r="2.1"/><circle cx="101.4" cy="260.3" r="2.1"/><circle cx="107.1" cy="263.1" r="2.1"/><circle cx="101.9" cy="266.3" r="2.1"/><circle cx="104.5" cy="259.5" r="2.1"/><circle cx="106.5" cy="262.7" r="2.1"/><circle cx="102.0" cy="260.4" r="2.1"/><circle cx="111.5" cy="262.6" r="2.1"/><circle cx="114.1" cy="265.1" r="2.1"/><circle cx="109.6" cy="258.2" r="2.1"/><circle cx="112.1" cy="261.5" r="2.1"/><circle cx="111.6" cy="266.8" r="2.1"/><circle cx="111.2" cy="260.2" r="2.1"/><circle cx="115.2" cy="264.0" r="2.1"/><circle cx="111.9" cy="267.5" r="2.1"/><circle cx="115.7" cy="260.1" r="2.1"/><circle cx="116.0" cy="267.1" r="2.1"/><circle cx="113.9" cy="259.6" r="2.1"/><circle cx="115.2" cy="259.6" r="2.1"/><circle cx="112.3" cy="259.8" r="2.1"/><circle cx="112.1" cy="267.6" r="2.1"/><circle cx="112.2" cy="266.6" r="2.1"/><circle cx="114.9" cy="260.0" r="2.1"/><circle cx="111.4" cy="264.9" r="2.1"/><circle cx="116.6" cy="258.5" r="2.1"/><circle cx="116.7" cy="261.3" r="2.1"/><circle cx="114.0" cy="267.5" r="2.1"/><circle cx="115.5" cy="267.4" r="2.1"/><circle cx="108.6" cy="266.9" r="2.1"/><circle cx="110.8" cy="261.4" r="2.1"/><circle cx="116.1" cy="259.7" r="2.1"/><circle cx="113.6" cy="263.6" r="2.1"/><circle cx="109.9" cy="259.4" r="2.1"/><circle cx="114.8" cy="264.2" r="2.1"/><circle cx="111.3" cy="266.7" r="2.1"/><circle cx="108.4" cy="265.7" r="2.1"/><circle cx="111.9" cy="267.3" r="2.1"/><circle cx="111.4" cy="266.7" r="2.1"/><circle cx="111.3" cy="262.8" r="2.1"/><circle cx="115.1" cy="264.2" r="2.1"/><circle cx="112.0" cy="261.5" r="2.1"/><circle cx="114.7" cy="259.7" r="2.1"/><circle cx="115.3" cy="262.1" r="2.1"/><circle cx="114.2" cy="267.7" r="2.1"/><circle cx="113.9" cy="261.1" r="2.1"/><circle cx="113.7" cy="259.9" r="2.1"/><circle cx="110.3" cy="264.9" r="2.1"/><circle cx="109.4" cy="263.9" r="2.1"/><circle cx="111.0" cy="262.3" r="2.1"/><circle cx="112.7" cy="261.9" r="2.1"/><circle cx="110.1" cy="261.6" r="2.1"/><circle cx="114.6" cy="261.4" r="2.1"/><circle cx="108.5" cy="258.4" r="2.1"/><circle cx="113.1" cy="267.5" r="2.1"/><circle cx="111.8" cy="264.2" r="2.1"/><circle cx="110.3" cy="266.2" r="2.1"/><circle cx="124.2" cy="265.2" r="2.1"/><circle cx="117.4" cy="265.0" r="2.1"/><circle cx="121.9" cy="266.3" r="2.1"/><circle cx="117.5" cy="259.0" r="2.1"/><circle cx="120.8" cy="266.1" r="2.1"/><circle cx="118.5" cy="262.2" r="2.1"/><circle cx="124.2" cy="260.9" r="2.1"/><circle cx="119.1" cy="264.2" r="2.1"/><circle cx="123.4" cy="265.9" r="2.1"/><circle cx="121.1" cy="259.8" r="2.1"/><circle cx="117.2" cy="267.5" r="2.1"/><circle cx="119.7" cy="257.8" r="2.1"/><circle cx="120.8" cy="262.4" r="2.1"/><circle cx="118.4" cy="259.9" r="2.1"/><circle cx="118.8" cy="261.7" r="2.1"/><circle cx="118.5" cy="259.3" r="2.1"/><circle cx="118.8" cy="261.3" r="2.1"/><circle cx="124.7" cy="267.7" r="2.1"/><circle cx="117.9" cy="263.3" r="2.1"/><circle cx="121.6" cy="264.7" r="2.1"/><circle cx="124.2" cy="264.9" r="2.1"/><circle cx="121.6" cy="264.6" r="2.1"/><circle cx="121.2" cy="265.7" r="2.1"/><circle cx="118.5" cy="267.1" r="2.1"/><circle cx="118.9" cy="264.1" r="2.1"/><circle cx="120.4" cy="264.4" r="2.1"/><circle cx="123.2" cy="258.1" r="2.1"/><circle cx="124.8" cy="265.3" r="2.1"/><circle cx="121.1" cy="265.5" r="2.1"/><circle cx="119.2" cy="258.4" r="2.1"/><circle cx="123.1" cy="263.2" r="2.1"/><circle cx="119.6" cy="258.6" r="2.1"/><circle cx="120.8" cy="263.1" r="2.1"/><circle cx="117.8" cy="259.2" r="2.1"/><circle cx="117.9" cy="265.8" r="2.1"/><circle cx="125.1" cy="258.4" r="2.1"/><circle cx="125.3" cy="260.0" r="2.1"/><circle cx="117.1" cy="264.4" r="2.1"/><circle cx="117.7" cy="259.1" r="2.1"/><circle cx="123.3" cy="266.1" r="2.1"/><circle cx="124.7" cy="260.4" r="2.1"/><circle cx="120.0" cy="259.8" r="2.1"/><circle cx="125.5" cy="262.8" r="2.1"/><circle cx="120.2" cy="259.0" r="2.1"/><circle cx="125.6" cy="266.5" r="2.1"/><circle cx="117.8" cy="259.5" r="2.1"/><circle cx="122.2" cy="267.0" r="2.1"/><circle cx="125.4" cy="266.5" r="2.1"/><circle cx="120.1" cy="257.9" r="2.1"/></g><g fill="none" stroke="#EDB120" stroke-width="1.0"><circle cx="125.3" cy="27.0" r="2.1"/><circle cx="148.1" cy="34.7" r="2.1"/><circle cx="141.5" cy="58.9" r="2.1"/><circle cx="116.7" cy="86.6" r="2.1"/><circle cx="118.9" cy="95.5" r="2.1"/><circle cx="136.8" cy="89.1" r="2.1"/><circle cx="145.5" cy="89.1" r="2.1"/><circle cx="175.9" cy="76.1" r="2.1"/><circle cx="185.9" cy="87.8" r="2.1"/><circle cx="175.9" cy="91.7" r="2.1"/><circle cx="144.1" cy="105.0" r="2.1"/><circle cx="152.8" cy="108.0" r="2.1"/><circle cx="160.5" cy="103.5" r="2.1"/><circle cx="118.8" cy="110.3" r="2.1"/><circle cx="122.9" cy="111.9" r="2.1"/><circle cx="125.9" cy="114.4" r="2.1"/><circle cx="144.8" cy="114.1" r="2.1"/><circle cx="129.6" cy="130.0" r="2.1"/><circle cx="135.4" cy="135.4" r="2.1"/><circle cx="134.5" cy="139.5" r="2.1"/><circle cx="132.7" cy="143.5" r="2.1"/><circle cx="146.8" cy="132.6" r="2.1"/><circle cx="143.5" cy="147.4" r="2.1"/><circle cx="146.8" cy="146.8" r="2.1"/><circle cx="171.6" cy="146.8" r="2.1"/><circle cx="175.0" cy="147.5" r="2.1"/><circle cx="186.4" cy="147.5" r="2.1"/><circle cx="158.2" cy="149.5" r="2.1"/><circle cx="138.6" cy="144.0" r="2.1"/><circle cx="153.0" cy="148.4" r="2.1"/><circle cx="166.2" cy="149.5" r="2.1"/><circle cx="133.1" cy="149.5" r="2.1"/><circle cx="122.5" cy="154.3" r="2.1"/><circle cx="124.6" cy="157.0" r="2.1"/><circle cx="125.3" cy="159.8" r="2.1"/><circle cx="121.8" cy="170.8" r="2.1"/><circle cx="125.3" cy="181.3" r="2.1"/><circle cx="123.4" cy="186.0" r="2.1"/><circle cx="121.5" cy="190.3" r="2.1"/><circle cx="124.3" cy="190.3" r="2.1"/><circle cx="237.1" cy="223.2" r="2.1"/><circle cx="216.3" cy="230.7" r="2.1"/><circle cx="229.7" cy="231.1" r="2.1"/><circle cx="239.5" cy="231.1" r="2.1"/><circle cx="242.5" cy="235.1" r="2.1"/><circle cx="223.7" cy="238.5" r="2.1"/><circle cx="233.8" cy="238.1" r="2.1"/><circle cx="233.5" cy="241.8" r="2.1"/><circle cx="216.0" cy="241.5" r="2.1"/><circle cx="217.4" cy="242.6" r="2.1"/><circle cx="257.4" cy="237.7" r="2.1"/><circle cx="266.6" cy="243.0" r="2.1"/><circle cx="210.7" cy="238.1" r="2.1"/><circle cx="133.1" cy="156.9" r="2.1"/><circle cx="132.1" cy="162.9" r="2.1"/><circle cx="126.8" cy="162.5" r="2.1"/><circle cx="130.1" cy="155.1" r="2.1"/><circle cx="128.8" cy="162.3" r="2.1"/><circle cx="131.2" cy="172.9" r="2.1"/><circle cx="134.3" cy="165.4" r="2.1"/><circle cx="126.5" cy="172.7" r="2.1"/><circle cx="126.8" cy="176.7" r="2.1"/><circle cx="128.5" cy="175.3" r="2.1"/><circle cx="128.3" cy="188.9" r="2.1"/><circle cx="132.7" cy="177.8" r="2.1"/><circle cx="130.3" cy="185.7" r="2.1"/><circle cx="134.5" cy="186.1" r="2.1"/><circle cx="125.0" cy="190.2" r="2.1"/><circle cx="135.2" cy="197.0" r="2.1"/><circle cx="134.0" cy="198.4" r="2.1"/><circle cx="134.7" cy="192.1" r="2.1"/><circle cx="131.3" cy="200.5" r="2.1"/><circle cx="128.3" cy="201.8" r="2.1"/><circle cx="131.3" cy="195.0" r="2.1"/><circle cx="130.4" cy="193.6" r="2.1"/><circle cx="140.8" cy="191.6" r="2.1"/><circle cx="136.9" cy="198.6" r="2.1"/><circle cx="135.4" cy="199.3" r="2.1"/><circle cx="145.4" cy="194.6" r="2.1"/><circle cx="151.5" cy="190.8" r="2.1"/><circle cx="146.2" cy="192.9" r="2.1"/><circle cx="154.6" cy="199.1" r="2.1"/><circle cx="160.9" cy="201.5" r="2.1"/><circle cx="168.6" cy="192.5" r="2.1"/><circle cx="167.8" cy="199.5" r="2.1"/><circle cx="173.6" cy="194.5" r="2.1"/><circle cx="174.6" cy="195.6" r="2.1"/><circle cx="189.4" cy="191.0" r="2.1"/><circle cx="199.2" cy="199.7" r="2.1"/><circle cx="134.1" cy="215.6" r="2.1"/><circle cx="127.6" cy="206.7" r="2.1"/><circle cx="128.6" cy="207.0" r="2.1"/><circle cx="124.0" cy="205.6" r="2.1"/><circle cx="127.2" cy="210.3" r="2.1"/><circle cx="132.6" cy="208.6" r="2.1"/><circle cx="135.3" cy="204.4" r="2.1"/><circle cx="126.4" cy="206.3" r="2.1"/><circle cx="141.6" cy="207.1" r="2.1"/><circle cx="138.9" cy="206.0" r="2.1"/><circle cx="142.9" cy="206.1" r="2.1"/><circle cx="140.2" cy="209.7" r="2.1"/><circle cx="135.4" cy="211.9" r="2.1"/><circle cx="145.3" cy="212.2" r="2.1"/><circle cx="147.2" cy="213.0" r="2.1"/><circle cx="152.6" cy="212.5" r="2.1"/><circle cx="149.0" cy="204.7" r="2.1"/><circle cx="155.8" cy="210.7" r="2.1"/><circle cx="156.7" cy="211.2" r="2.1"/><circle cx="161.6" cy="210.0" r="2.1"/><circle cx="165.3" cy="205.8" r="2.1"/><circle cx="171.2" cy="205.4" r="2.1"/><circle cx="165.3" cy="216.9" r="2.1"/><circle cx="175.2" cy="209.3" r="2.1"/><circle cx="178.9" cy="213.3" r="2.1"/><circle cx="172.5" cy="209.1" r="2.1"/><circle cx="185.5" cy="208.5" r="2.1"/><circle cx="183.2" cy="212.2" r="2.1"/><circle cx="194.8" cy="216.4" r="2.1"/><circle cx="198.3" cy="213.7" r="2.1"/><circle cx="208.4" cy="204.4" r="2.1"/><circle cx="125.4" cy="219.8" r="2.1"/><circle cx="129.3" cy="219.9" r="2.1"/><circle cx="131.5" cy="224.5" r="2.1"/><circle cx="125.5" cy="217.6" r="2.1"/><circle cx="128.8" cy="219.0" r="2.1"/><circle cx="125.6" cy="222.6" r="2.1"/><circle cx="134.3" cy="220.9" r="2.1"/><circle cx="128.6" cy="225.5" r="2.1"/><circle cx="141.4" cy="222.9" r="2.1"/><circle cx="141.5" cy="225.4" r="2.1"/><circle cx="140.6" cy="218.8" r="2.1"/><circle cx="136.9" cy="223.8" r="2.1"/><circle cx="135.8" cy="225.5" r="2.1"/><circle cx="135.4" cy="223.3" r="2.1"/><circle cx="143.8" cy="222.8" r="2.1"/><circle cx="148.7" cy="219.3" r="2.1"/><circle cx="145.6" cy="219.3" r="2.1"/><circle cx="147.7" cy="230.8" r="2.1"/><circle cx="146.7" cy="224.6" r="2.1"/><circle cx="148.1" cy="227.4" r="2.1"/><circle cx="147.9" cy="220.0" r="2.1"/><circle cx="154.7" cy="228.3" r="2.1"/><circle cx="154.1" cy="223.7" r="2.1"/><circle cx="155.3" cy="219.7" r="2.1"/><circle cx="155.4" cy="230.0" r="2.1"/><circle cx="162.3" cy="219.2" r="2.1"/><circle cx="163.7" cy="222.9" r="2.1"/><circle cx="163.4" cy="220.7" r="2.1"/><circle cx="163.6" cy="226.3" r="2.1"/><circle cx="164.3" cy="225.0" r="2.1"/><circle cx="166.9" cy="229.5" r="2.1"/><circle cx="172.6" cy="229.0" r="2.1"/><circle cx="172.3" cy="225.4" r="2.1"/><circle cx="173.1" cy="227.2" r="2.1"/><circle cx="173.3" cy="219.3" r="2.1"/><circle cx="190.2" cy="230.4" r="2.1"/><circle cx="184.1" cy="226.5" r="2.1"/><circle cx="181.5" cy="219.1" r="2.1"/><circle cx="185.4" cy="229.0" r="2.1"/><circle cx="197.0" cy="228.5" r="2.1"/><circle cx="194.4" cy="221.0" r="2.1"/><circle cx="193.7" cy="230.7" r="2.1"/><circle cx="200.7" cy="228.9" r="2.1"/><circle cx="201.6" cy="225.3" r="2.1"/><circle cx="215.5" cy="227.2" r="2.1"/><circle cx="212.4" cy="224.2" r="2.1"/><circle cx="129.4" cy="233.3" r="2.1"/><circle cx="134.5" cy="232.0" r="2.1"/><circle cx="129.1" cy="233.7" r="2.1"/><circle cx="131.4" cy="238.1" r="2.1"/><circle cx="134.8" cy="244.0" r="2.1"/><circle cx="134.2" cy="234.6" r="2.1"/><circle cx="131.0" cy="233.7" r="2.1"/><circle cx="130.6" cy="235.5" r="2.1"/><circle cx="137.9" cy="236.0" r="2.1"/><circle cx="136.7" cy="242.6" r="2.1"/><circle cx="141.0" cy="233.3" r="2.1"/><circle cx="136.1" cy="234.1" r="2.1"/><circle cx="140.8" cy="232.6" r="2.1"/><circle cx="141.7" cy="240.1" r="2.1"/><circle cx="136.3" cy="233.0" r="2.1"/><circle cx="147.1" cy="238.2" r="2.1"/><circle cx="146.2" cy="233.9" r="2.1"/><circle cx="145.8" cy="236.4" r="2.1"/><circle cx="153.7" cy="239.2" r="2.1"/><circle cx="151.3" cy="234.9" r="2.1"/><circle cx="152.2" cy="234.1" r="2.1"/><circle cx="152.8" cy="232.7" r="2.1"/><circle cx="146.9" cy="240.9" r="2.1"/><circle cx="159.2" cy="233.4" r="2.1"/><circle cx="154.8" cy="232.4" r="2.1"/><circle cx="154.3" cy="242.9" r="2.1"/><circle cx="161.2" cy="239.0" r="2.1"/><circle cx="158.3" cy="240.2" r="2.1"/><circle cx="156.1" cy="238.9" r="2.1"/><circle cx="156.2" cy="235.4" r="2.1"/><circle cx="169.1" cy="234.7" r="2.1"/><circle cx="166.7" cy="242.6" r="2.1"/><circle cx="167.4" cy="232.4" r="2.1"/><circle cx="166.9" cy="236.5" r="2.1"/><circle cx="171.6" cy="237.3" r="2.1"/><circle cx="164.9" cy="242.7" r="2.1"/><circle cx="165.1" cy="236.4" r="2.1"/><circle cx="169.4" cy="232.2" r="2.1"/><circle cx="167.0" cy="239.1" r="2.1"/><circle cx="169.2" cy="236.1" r="2.1"/><circle cx="170.5" cy="240.2" r="2.1"/><circle cx="173.9" cy="232.2" r="2.1"/><circle cx="173.9" cy="237.9" r="2.1"/><circle cx="177.2" cy="243.1" r="2.1"/><circle cx="180.6" cy="231.4" r="2.1"/><circle cx="173.5" cy="237.2" r="2.1"/><circle cx="173.9" cy="231.5" r="2.1"/><circle cx="175.5" cy="237.6" r="2.1"/><circle cx="174.5" cy="236.2" r="2.1"/><circle cx="175.9" cy="244.0" r="2.1"/><circle cx="189.0" cy="240.5" r="2.1"/><circle cx="185.3" cy="242.6" r="2.1"/><circle cx="187.5" cy="243.2" r="2.1"/><circle cx="183.0" cy="243.0" r="2.1"/><circle cx="184.0" cy="239.4" r="2.1"/><circle cx="183.0" cy="242.9" r="2.1"/><circle cx="183.3" cy="235.5" r="2.1"/><circle cx="189.5" cy="231.7" r="2.1"/><circle cx="186.8" cy="231.1" r="2.1"/><circle cx="194.5" cy="240.0" r="2.1"/><circle cx="197.6" cy="233.4" r="2.1"/><circle cx="190.4" cy="243.0" r="2.1"/><circle cx="197.3" cy="238.0" r="2.1"/><circle cx="197.9" cy="233.4" r="2.1"/><circle cx="195.3" cy="242.8" r="2.1"/><circle cx="196.9" cy="239.4" r="2.1"/><circle cx="199.5" cy="233.4" r="2.1"/><circle cx="207.2" cy="232.1" r="2.1"/><circle cx="206.7" cy="240.5" r="2.1"/><circle cx="201.8" cy="235.4" r="2.1"/><circle cx="202.6" cy="231.0" r="2.1"/><circle cx="212.2" cy="242.9" r="2.1"/><circle cx="214.7" cy="234.4" r="2.1"/><circle cx="210.3" cy="242.4" r="2.1"/><circle cx="216.7" cy="234.7" r="2.1"/><circle cx="132.5" cy="246.4" r="2.1"/><circle cx="134.7" cy="252.5" r="2.1"/><circle cx="133.2" cy="247.0" r="2.1"/><circle cx="132.1" cy="250.5" r="2.1"/><circle cx="131.0" cy="245.6" r="2.1"/><circle cx="134.2" cy="250.5" r="2.1"/><circle cx="131.8" cy="249.0" r="2.1"/><circle cx="136.7" cy="248.3" r="2.1"/><circle cx="137.2" cy="254.2" r="2.1"/><circle cx="136.4" cy="253.1" r="2.1"/><circle cx="137.3" cy="250.8" r="2.1"/><circle cx="141.2" cy="256.3" r="2.1"/><circle cx="139.7" cy="250.6" r="2.1"/><circle cx="141.3" cy="253.0" r="2.1"/><circle cx="136.6" cy="255.3" r="2.1"/><circle cx="139.6" cy="252.1" r="2.1"/><circle cx="138.6" cy="248.2" r="2.1"/><circle cx="143.1" cy="245.9" r="2.1"/><circle cx="145.9" cy="251.0" r="2.1"/><circle cx="150.7" cy="252.4" r="2.1"/><circle cx="152.3" cy="246.7" r="2.1"/><circle cx="151.1" cy="246.1" r="2.1"/><circle cx="153.6" cy="247.9" r="2.1"/><circle cx="145.7" cy="250.1" r="2.1"/><circle cx="152.2" cy="251.6" r="2.1"/><circle cx="151.4" cy="251.8" r="2.1"/><circle cx="150.5" cy="253.0" r="2.1"/><circle cx="150.5" cy="250.4" r="2.1"/><circle cx="145.5" cy="249.3" r="2.1"/><circle cx="147.9" cy="257.0" r="2.1"/><circle cx="151.1" cy="254.8" r="2.1"/><circle cx="145.2" cy="250.8" r="2.1"/><circle cx="152.2" cy="254.1" r="2.1"/><circle cx="152.3" cy="249.0" r="2.1"/><circle cx="156.2" cy="256.9" r="2.1"/><circle cx="161.4" cy="246.0" r="2.1"/><circle cx="157.0" cy="247.3" r="2.1"/><circle cx="162.3" cy="249.9" r="2.1"/><circle cx="156.8" cy="246.0" r="2.1"/><circle cx="160.4" cy="249.9" r="2.1"/><circle cx="158.9" cy="252.1" r="2.1"/><circle cx="155.7" cy="257.4" r="2.1"/><circle cx="158.7" cy="251.2" r="2.1"/><circle cx="155.9" cy="251.3" r="2.1"/><circle cx="156.5" cy="246.0" r="2.1"/><circle cx="160.1" cy="244.8" r="2.1"/><circle cx="162.2" cy="252.2" r="2.1"/><circle cx="161.4" cy="249.7" r="2.1"/><circle cx="161.9" cy="254.0" r="2.1"/><circle cx="154.7" cy="256.9" r="2.1"/><circle cx="170.4" cy="254.8" r="2.1"/><circle cx="166.0" cy="253.8" r="2.1"/><circle cx="170.9" cy="257.6" r="2.1"/><circle cx="169.0" cy="246.8" r="2.1"/><circle cx="167.4" cy="250.7" r="2.1"/><circle cx="170.4" cy="256.6" r="2.1"/><circle cx="171.2" cy="255.2" r="2.1"/><circle cx="169.3" cy="251.5" r="2.1"/><circle cx="167.7" cy="251.7" r="2.1"/><circle cx="163.8" cy="249.3" r="2.1"/><circle cx="162.9" cy="250.8" r="2.1"/><circle cx="171.1" cy="255.9" r="2.1"/><circle cx="164.4" cy="248.6" r="2.1"/><circle cx="165.9" cy="247.8" r="2.1"/><circle cx="171.4" cy="248.6" r="2.1"/><circle cx="168.2" cy="245.0" r="2.1"/><circle cx="179.9" cy="254.1" r="2.1"/><circle cx="177.9" cy="256.3" r="2.1"/><circle cx="180.4" cy="246.2" r="2.1"/><circle cx="176.9" cy="245.1" r="2.1"/><circle cx="180.5" cy="246.9" r="2.1"/><circle cx="172.7" cy="244.7" r="2.1"/><circle cx="181.0" cy="256.0" r="2.1"/><circle cx="178.2" cy="249.7" r="2.1"/><circle cx="172.6" cy="255.3" r="2.1"/><circle cx="180.6" cy="249.2" r="2.1"/><circle cx="175.0" cy="250.0" r="2.1"/><circle cx="173.1" cy="249.9" r="2.1"/><circle cx="177.3" cy="255.6" r="2.1"/><circle cx="173.5" cy="252.4" r="2.1"/><circle cx="186.0" cy="247.8" r="2.1"/><circle cx="181.2" cy="249.8" r="2.1"/><circle cx="187.0" cy="252.9" r="2.1"/><circle cx="181.7" cy="254.3" r="2.1"/><circle cx="188.6" cy="251.0" r="2.1"/><circle cx="190.2" cy="248.9" r="2.1"/><circle cx="186.6" cy="251.7" r="2.1"/><circle cx="190.1" cy="251.2" r="2.1"/><circle cx="182.8" cy="254.0" r="2.1"/><circle cx="185.4" cy="255.7" r="2.1"/><circle cx="185.1" cy="257.6" r="2.1"/><circle cx="196.2" cy="251.1" r="2.1"/><circle cx="192.7" cy="250.9" r="2.1"/><circle cx="198.8" cy="252.0" r="2.1"/><circle cx="193.9" cy="248.4" r="2.1"/><circle cx="190.6" cy="257.4" r="2.1"/><circle cx="195.3" cy="246.6" r="2.1"/><circle cx="191.9" cy="244.9" r="2.1"/><circle cx="190.4" cy="245.2" r="2.1"/><circle cx="194.7" cy="256.8" r="2.1"/><circle cx="199.2" cy="250.0" r="2.1"/><circle cx="205.8" cy="257.3" r="2.1"/><circle cx="201.9" cy="250.9" r="2.1"/><circle cx="199.5" cy="248.5" r="2.1"/><circle cx="205.0" cy="248.7" r="2.1"/><circle cx="206.5" cy="247.2" r="2.1"/><circle cx="208.6" cy="245.3" r="2.1"/><circle cx="203.2" cy="255.1" r="2.1"/><circle cx="211.2" cy="252.6" r="2.1"/><circle cx="209.4" cy="249.8" r="2.1"/><circle cx="210.6" cy="254.4" r="2.1"/><circle cx="211.0" cy="256.6" r="2.1"/><circle cx="210.5" cy="246.7" r="2.1"/><circle cx="212.8" cy="250.8" r="2.1"/><circle cx="215.1" cy="247.1" r="2.1"/><circle cx="214.2" cy="250.8" r="2.1"/><circle cx="221.2" cy="248.4" r="2.1"/><circle cx="218.7" cy="251.8" r="2.1"/><circle cx="223.9" cy="256.4" r="2.1"/><circle cx="220.1" cy="248.6" r="2.1"/><circle cx="225.1" cy="252.6" r="2.1"/><circle cx="226.1" cy="255.9" r="2.1"/><circle cx="221.7" cy="248.3" r="2.1"/><circle cx="218.7" cy="251.5" r="2.1"/><circle cx="227.5" cy="254.9" r="2.1"/><circle cx="229.3" cy="252.7" r="2.1"/><circle cx="229.7" cy="252.0" r="2.1"/><circle cx="228.0" cy="256.3" r="2.1"/><circle cx="242.5" cy="256.3" r="2.1"/><circle cx="238.2" cy="257.2" r="2.1"/><circle cx="243.2" cy="251.4" r="2.1"/><circle cx="236.5" cy="246.8" r="2.1"/><circle cx="244.7" cy="257.1" r="2.1"/><circle cx="246.7" cy="253.5" r="2.1"/><circle cx="253.0" cy="253.6" r="2.1"/><circle cx="253.9" cy="245.8" r="2.1"/><circle cx="252.2" cy="257.3" r="2.1"/><circle cx="245.4" cy="248.3" r="2.1"/><circle cx="258.3" cy="249.7" r="2.1"/><circle cx="260.6" cy="249.5" r="2.1"/><circle cx="271.7" cy="250.2" r="2.1"/><circle cx="278.7" cy="255.7" r="2.1"/><circle cx="273.2" cy="248.4" r="2.1"/><circle cx="273.5" cy="257.2" r="2.1"/><circle cx="289.0" cy="247.2" r="2.1"/><circle cx="286.9" cy="245.4" r="2.1"/><circle cx="285.0" cy="256.8" r="2.1"/><circle cx="283.0" cy="244.7" r="2.1"/><circle cx="299.6" cy="247.9" r="2.1"/><circle cx="296.2" cy="252.5" r="2.1"/><circle cx="302.5" cy="245.2" r="2.1"/><circle cx="129.1" cy="258.1" r="2.1"/><circle cx="142.6" cy="264.8" r="2.1"/><circle cx="144.0" cy="265.7" r="2.1"/><circle cx="144.3" cy="262.5" r="2.1"/><circle cx="136.8" cy="262.6" r="2.1"/><circle cx="142.1" cy="263.4" r="2.1"/><circle cx="137.6" cy="259.2" r="2.1"/><circle cx="137.1" cy="262.8" r="2.1"/><circle cx="141.3" cy="259.2" r="2.1"/><circle cx="135.3" cy="260.9" r="2.1"/><circle cx="138.1" cy="265.3" r="2.1"/><circle cx="152.0" cy="258.9" r="2.1"/><circle cx="146.5" cy="261.1" r="2.1"/><circle cx="145.2" cy="265.0" r="2.1"/><circle cx="151.6" cy="258.6" r="2.1"/><circle cx="147.8" cy="268.3" r="2.1"/><circle cx="145.4" cy="261.0" r="2.1"/><circle cx="151.9" cy="261.0" r="2.1"/><circle cx="151.3" cy="264.5" r="2.1"/><circle cx="153.0" cy="265.8" r="2.1"/><circle cx="153.2" cy="260.0" r="2.1"/><circle cx="148.0" cy="259.9" r="2.1"/><circle cx="150.6" cy="263.0" r="2.1"/><circle cx="147.3" cy="267.3" r="2.1"/><circle cx="145.7" cy="267.6" r="2.1"/><circle cx="159.2" cy="258.0" r="2.1"/><circle cx="156.3" cy="260.5" r="2.1"/><circle cx="160.0" cy="260.8" r="2.1"/><circle cx="160.6" cy="268.4" r="2.1"/><circle cx="156.2" cy="260.6" r="2.1"/><circle cx="160.6" cy="263.7" r="2.1"/><circle cx="155.8" cy="265.6" r="2.1"/><circle cx="157.2" cy="261.8" r="2.1"/><circle cx="161.2" cy="257.8" r="2.1"/><circle cx="155.3" cy="268.8" r="2.1"/><circle cx="162.4" cy="267.7" r="2.1"/><circle cx="155.2" cy="267.7" r="2.1"/><circle cx="157.0" cy="269.8" r="2.1"/><circle cx="160.5" cy="261.0" r="2.1"/><circle cx="155.3" cy="261.5" r="2.1"/><circle cx="155.7" cy="270.4" r="2.1"/><circle cx="171.3" cy="268.8" r="2.1"/><circle cx="171.5" cy="258.7" r="2.1"/><circle cx="166.8" cy="270.6" r="2.1"/><circle cx="164.1" cy="270.4" r="2.1"/><circle cx="172.0" cy="263.8" r="2.1"/><circle cx="162.9" cy="264.6" r="2.1"/><circle cx="165.1" cy="262.7" r="2.1"/><circle cx="162.9" cy="259.5" r="2.1"/><circle cx="166.9" cy="263.9" r="2.1"/><circle cx="167.2" cy="264.3" r="2.1"/><circle cx="170.7" cy="268.8" r="2.1"/><circle cx="166.1" cy="271.0" r="2.1"/><circle cx="172.0" cy="262.6" r="2.1"/><circle cx="166.3" cy="270.0" r="2.1"/><circle cx="165.7" cy="257.8" r="2.1"/><circle cx="170.9" cy="266.4" r="2.1"/><circle cx="173.8" cy="263.7" r="2.1"/><circle cx="179.6" cy="266.3" r="2.1"/><circle cx="180.2" cy="268.2" r="2.1"/><circle cx="176.3" cy="270.3" r="2.1"/><circle cx="175.9" cy="270.5" r="2.1"/><circle cx="173.8" cy="265.1" r="2.1"/><circle cx="178.6" cy="264.7" r="2.1"/><circle cx="180.6" cy="265.9" r="2.1"/><circle cx="180.5" cy="266.3" r="2.1"/><circle cx="173.6" cy="260.7" r="2.1"/><circle cx="174.7" cy="260.1" r="2.1"/><circle cx="174.2" cy="261.5" r="2.1"/><circle cx="176.5" cy="262.6" r="2.1"/><circle cx="177.6" cy="259.2" r="2.1"/><circle cx="182.5" cy="270.2" r="2.1"/><circle cx="187.0" cy="263.5" r="2.1"/><circle cx="181.9" cy="264.4" r="2.1"/><circle cx="187.9" cy="259.2" r="2.1"/><circle cx="185.8" cy="262.8" r="2.1"/><circle cx="185.9" cy="258.4" r="2.1"/><circle cx="185.1" cy="258.0" r="2.1"/><circle cx="185.4" cy="269.3" r="2.1"/><circle cx="182.1" cy="258.1" r="2.1"/><circle cx="189.7" cy="266.9" r="2.1"/><circle cx="188.7" cy="269.2" r="2.1"/><circle cx="195.9" cy="262.6" r="2.1"/><circle cx="197.7" cy="258.7" r="2.1"/><circle cx="196.7" cy="258.9" r="2.1"/><circle cx="194.1" cy="257.9" r="2.1"/><circle cx="193.5" cy="259.3" r="2.1"/><circle cx="196.1" cy="261.5" r="2.1"/><circle cx="192.0" cy="264.6" r="2.1"/><circle cx="192.3" cy="259.4" r="2.1"/><circle cx="203.4" cy="267.1" r="2.1"/><circle cx="207.5" cy="258.3" r="2.1"/><circle cx="201.9" cy="265.8" r="2.1"/><circle cx="207.4" cy="271.0" r="2.1"/><circle cx="202.5" cy="270.6" r="2.1"/><circle cx="204.3" cy="264.3" r="2.1"/><circle cx="201.5" cy="269.5" r="2.1"/><circle cx="212.7" cy="269.4" r="2.1"/><circle cx="216.0" cy="267.2" r="2.1"/><circle cx="210.4" cy="268.7" r="2.1"/><circle cx="217.3" cy="267.3" r="2.1"/><circle cx="214.3" cy="260.9" r="2.1"/><circle cx="214.5" cy="258.8" r="2.1"/><circle cx="216.2" cy="257.8" r="2.1"/><circle cx="214.1" cy="271.0" r="2.1"/><circle cx="219.6" cy="269.7" r="2.1"/><circle cx="225.9" cy="260.6" r="2.1"/><circle cx="222.8" cy="257.9" r="2.1"/><circle cx="224.5" cy="264.6" r="2.1"/><circle cx="219.2" cy="259.8" r="2.1"/><circle cx="220.7" cy="263.6" r="2.1"/><circle cx="218.0" cy="263.4" r="2.1"/><circle cx="223.4" cy="258.4" r="2.1"/><circle cx="225.5" cy="259.7" r="2.1"/><circle cx="218.9" cy="265.3" r="2.1"/><circle cx="229.2" cy="266.1" r="2.1"/><circle cx="232.6" cy="267.5" r="2.1"/><circle cx="230.2" cy="268.7" r="2.1"/><circle cx="227.7" cy="265.4" r="2.1"/><circle cx="230.9" cy="263.0" r="2.1"/><circle cx="231.4" cy="264.7" r="2.1"/><circle cx="235.5" cy="263.8" r="2.1"/><circle cx="236.3" cy="265.7" r="2.1"/><circle cx="238.1" cy="259.0" r="2.1"/><circle cx="237.5" cy="264.7" r="2.1"/><circle cx="241.3" cy="261.7" r="2.1"/><circle cx="244.0" cy="270.8" r="2.1"/><circle cx="244.0" cy="269.3" r="2.1"/><circle cx="252.2" cy="270.2" r="2.1"/><circle cx="246.6" cy="259.6" r="2.1"/><circle cx="245.5" cy="267.7" r="2.1"/><circle cx="249.7" cy="259.3" r="2.1"/><circle cx="262.9" cy="269.4" r="2.1"/><circle cx="259.1" cy="262.7" r="2.1"/><circle cx="255.1" cy="261.9" r="2.1"/><circle cx="257.7" cy="257.9" r="2.1"/><circle cx="260.9" cy="261.7" r="2.1"/><circle cx="259.2" cy="262.4" r="2.1"/><circle cx="263.9" cy="265.5" r="2.1"/><circle cx="267.0" cy="261.2" r="2.1"/><circle cx="265.8" cy="265.5" r="2.1"/><circle cx="280.8" cy="264.4" r="2.1"/><circle cx="278.4" cy="261.2" r="2.1"/><circle cx="279.9" cy="266.3" r="2.1"/><circle cx="279.0" cy="259.4" r="2.1"/><circle cx="290.0" cy="268.9" r="2.1"/><circle cx="291.0" cy="270.6" r="2.1"/><circle cx="284.0" cy="267.8" r="2.1"/><circle cx="288.0" cy="267.1" r="2.1"/><circle cx="284.1" cy="258.7" r="2.1"/><circle cx="285.9" cy="258.9" r="2.1"/><circle cx="296.1" cy="262.8" r="2.1"/><circle cx="300.2" cy="268.5" r="2.1"/><circle cx="292.0" cy="270.1" r="2.1"/><circle cx="294.8" cy="260.2" r="2.1"/><circle cx="292.2" cy="260.7" r="2.1"/><circle cx="298.1" cy="271.0" r="2.1"/><circle cx="301.1" cy="257.9" r="2.1"/><circle cx="306.7" cy="268.6" r="2.1"/><circle cx="149.4" cy="271.6" r="2.1"/><circle cx="150.3" cy="271.7" r="2.1"/><circle cx="151.5" cy="274.3" r="2.1"/><circle cx="145.7" cy="273.6" r="2.1"/><circle cx="162.8" cy="272.1" r="2.1"/><circle cx="160.4" cy="272.5" r="2.1"/><circle cx="155.6" cy="273.6" r="2.1"/><circle cx="161.6" cy="273.8" r="2.1"/><circle cx="161.6" cy="272.1" r="2.1"/><circle cx="158.5" cy="271.2" r="2.1"/><circle cx="163.1" cy="273.2" r="2.1"/><circle cx="171.3" cy="273.0" r="2.1"/><circle cx="163.6" cy="271.1" r="2.1"/><circle cx="166.4" cy="272.2" r="2.1"/><circle cx="168.3" cy="271.4" r="2.1"/><circle cx="168.5" cy="271.2" r="2.1"/><circle cx="175.2" cy="273.6" r="2.1"/><circle cx="178.3" cy="273.5" r="2.1"/><circle cx="179.4" cy="274.2" r="2.1"/><circle cx="180.3" cy="273.2" r="2.1"/><circle cx="174.0" cy="271.1" r="2.1"/><circle cx="179.9" cy="273.7" r="2.1"/><circle cx="186.0" cy="272.1" r="2.1"/><circle cx="181.6" cy="271.3" r="2.1"/><circle cx="182.7" cy="272.8" r="2.1"/><circle cx="187.9" cy="272.8" r="2.1"/><circle cx="189.4" cy="272.1" r="2.1"/><circle cx="192.8" cy="274.3" r="2.1"/><circle cx="194.6" cy="271.3" r="2.1"/><circle cx="196.3" cy="271.2" r="2.1"/><circle cx="190.9" cy="273.4" r="2.1"/><circle cx="203.4" cy="273.3" r="2.1"/><circle cx="205.7" cy="274.3" r="2.1"/><circle cx="206.8" cy="271.5" r="2.1"/><circle cx="216.6" cy="271.8" r="2.1"/><circle cx="216.6" cy="273.1" r="2.1"/><circle cx="215.3" cy="273.7" r="2.1"/><circle cx="220.7" cy="274.3" r="2.1"/><circle cx="219.3" cy="274.0" r="2.1"/><circle cx="229.4" cy="273.5" r="2.1"/><circle cx="232.7" cy="273.4" r="2.1"/><circle cx="240.5" cy="273.4" r="2.1"/><circle cx="238.3" cy="274.4" r="2.1"/><circle cx="239.7" cy="271.7" r="2.1"/><circle cx="252.2" cy="271.2" r="2.1"/><circle cx="252.9" cy="272.1" r="2.1"/><circle cx="256.0" cy="272.8" r="2.1"/><circle cx="259.6" cy="274.0" r="2.1"/><circle cx="264.3" cy="271.8" r="2.1"/><circle cx="278.7" cy="272.9" r="2.1"/><circle cx="275.6" cy="274.3" r="2.1"/><circle cx="275.6" cy="271.9" r="2.1"/><circle cx="289.6" cy="273.5" r="2.1"/><circle cx="284.1" cy="272.1" r="2.1"/><circle cx="291.1" cy="272.5" r="2.1"/><circle cx="294.6" cy="271.8" r="2.1"/><circle cx="297.0" cy="273.5" r="2.1"/><circle cx="307.0" cy="274.2" r="2.1"/></g><line x1="34.5" y1="284.5" x2="217.84" y2="16.600000000000023" stroke="#4DA0D8" stroke-width="1" stroke-dasharray="1 2.2"/><line x1="125.67" y1="284.5" x2="125.67" y2="16.600000000000023" stroke="#4796D4" stroke-width="1.25" stroke-dasharray="6.7 4.0"/><line x1="34.5" y1="150.55" x2="309.51" y2="150.55" stroke="#4796D4" stroke-width="1.25" stroke-dasharray="6.7 4.0"/><path d="M34.5,16.600000000000023 V284.5 H309.51" fill="none" stroke="#555555" stroke-width="1.1"/><path d="M34.50,284.5 v-3 M80.34,284.5 v-3 M126.17,284.5 v-3 M172.00,284.5 v-3 M217.84,284.5 v-3 M263.68,284.5 v-3 M309.51,284.5 v-3 M34.5,284.50 h3 M34.5,257.71 h3 M34.5,230.92 h3 M34.5,204.13 h3 M34.5,177.34 h3 M34.5,150.55 h3 M34.5,123.76 h3 M34.5,96.97 h3 M34.5,70.18 h3 M34.5,43.39 h3 M34.5,16.60 h3" stroke="#555555" stroke-width="1.1"/><g font-family="Liberation Sans, sans-serif" font-size="10.6" fill="#262626"><text x="34.50" y="299.1" text-anchor="middle">0</text><text x="80.34" y="299.1" text-anchor="middle">0.5</text><text x="126.17" y="299.1" text-anchor="middle">1</text><text x="172.00" y="299.1" text-anchor="middle">1.5</text><text x="217.84" y="299.1" text-anchor="middle">2</text><text x="263.68" y="299.1" text-anchor="middle">2.5</text><text x="309.51" y="299.1" text-anchor="middle">3</text><text x="30.3" y="289.20" text-anchor="end">0</text><text x="30.3" y="262.41" text-anchor="end">0.2</text><text x="30.3" y="235.62" text-anchor="end">0.4</text><text x="30.3" y="208.83" text-anchor="end">0.6</text><text x="30.3" y="182.04" text-anchor="end">0.8</text><text x="30.3" y="155.25" text-anchor="end">1</text><text x="30.3" y="128.46" text-anchor="end">1.2</text><text x="30.3" y="101.67" text-anchor="end">1.4</text><text x="30.3" y="74.88" text-anchor="end">1.6</text><text x="30.3" y="48.09" text-anchor="end">1.8</text><text x="30.3" y="21.30" text-anchor="end">2</text></g><text font-family="Liberation Sans, sans-serif" font-size="12" fill="#262626" x="171.0" y="314.4" text-anchor="middle" textLength="84" lengthAdjust="spacingAndGlyphs">Relative impact</text><text font-family="Liberation Sans, sans-serif" font-size="12" fill="#262626" transform="translate(10.1,150.05) rotate(-90)" text-anchor="middle" textLength="71.3" lengthAdjust="spacingAndGlyphs">Relative cost</text><text font-family="Liberation Sans, sans-serif" font-size="11.6" font-weight="bold" fill="#000" x="171.85" y="9.7" text-anchor="middle" textLength="204.7" lengthAdjust="spacingAndGlyphs">(A) Infectious person-days averted</text><rect x="137.4" y="155.4" width="167.9" height="40.79999999999998" fill="#fff" stroke="#262626" stroke-width="0.9"/><circle cx="149.9" cy="162.9" r="1.9" fill="none" stroke="#C94A16" stroke-width="0.75"/><text font-family="Liberation Sans, sans-serif" font-size="10.2" fill="#262626" x="161.8" y="167.5" textLength="138.2" lengthAdjust="spacingAndGlyphs">Confirm Ag-RDT -ve with NAT</text><circle cx="149.9" cy="176.1" r="1.9" fill="none" stroke="#0072BD" stroke-width="0.75"/><text font-family="Liberation Sans, sans-serif" font-size="10.2" fill="#262626" x="161.8" y="180.4" textLength="139.4" lengthAdjust="spacingAndGlyphs">Confirm Ag-RDT +ve with NAT</text><circle cx="149.9" cy="189.1" r="1.9" fill="none" stroke="#EDB120" stroke-width="0.75"/><text font-family="Liberation Sans, sans-serif" font-size="10.2" fill="#262626" x="162.2" y="192.5" textLength="124.5" lengthAdjust="spacingAndGlyphs">No confirmation of Ag-RDT</text><rect x="539.50" y="37.30" width="119.85" height="20.6" fill="#FFCC4E" stroke="#333" stroke-width="0.8"/><text font-family="Liberation Sans, sans-serif" font-size="10.8" fill="#262626" x="398.0" y="51.40" text-anchor="end">NAT availability</text><rect x="539.50" y="63.06" width="57.35" height="20.6" fill="#FFCC4E" stroke="#333" stroke-width="0.8"/><text font-family="Liberation Sans, sans-serif" font-size="10.8" fill="#262626" x="398.0" y="77.16" text-anchor="end">Prop acute</text><rect x="539.50" y="88.82" width="56.32" height="20.6" fill="#FFCC4E" stroke="#333" stroke-width="0.8"/><text font-family="Liberation Sans, sans-serif" font-size="10.8" fill="#262626" x="398.0" y="102.92" text-anchor="end" textLength="44.7" lengthAdjust="spacingAndGlyphs">NAT cost</text><rect x="539.50" y="114.58" width="26.10" height="20.6" fill="#FFCC4E" stroke="#333" stroke-width="0.8"/><text font-family="Liberation Sans, sans-serif" font-size="10.8" fill="#262626" x="398.0" y="128.68" text-anchor="end" textLength="43.2" lengthAdjust="spacingAndGlyphs">NAT TAT</text><rect x="517.87" y="140.34" width="21.63" height="20.6" fill="#FFCC4E" stroke="#333" stroke-width="0.8"/><text font-family="Liberation Sans, sans-serif" font-size="10.8" fill="#262626" x="398.0" y="154.44" text-anchor="end">Inf days remain</text><rect x="522.67" y="166.10" width="16.83" height="20.6" fill="#FFCC4E" stroke="#333" stroke-width="0.8"/><text font-family="Liberation Sans, sans-serif" font-size="10.8" fill="#262626" x="398.0" y="180.20" text-anchor="end">Clinical sn</text><rect x="528.85" y="191.86" width="10.65" height="20.6" fill="#FFCC4E" stroke="#333" stroke-width="0.8"/><text font-family="Liberation Sans, sans-serif" font-size="10.8" fill="#262626" x="398.0" y="205.96" text-anchor="end" textLength="37.0" lengthAdjust="spacingAndGlyphs">NAT sp</text><rect x="539.50" y="217.62" width="4.81" height="20.6" fill="#FFCC4E" stroke="#333" stroke-width="0.8"/><text font-family="Liberation Sans, sans-serif" font-size="10.8" fill="#262626" x="398.0" y="231.72" text-anchor="end" textLength="36.0" lengthAdjust="spacingAndGlyphs">NAT sn</text><rect x="535.38" y="243.38" width="4.12" height="20.6" fill="#FFCC4E" stroke="#333" stroke-width="0.8"/><text font-family="Liberation Sans, sans-serif" font-size="10.8" fill="#262626" x="398.0" y="257.48" text-anchor="end">Clinical sp</text><line x1="539.5" y1="16.8" x2="539.5" y2="284.25" stroke="#555555" stroke-width="1"/><rect x="401.9" y="16.8" width="274.70" height="267.45" fill="none" stroke="#555555" stroke-width="1.1"/><path d="M402.14,284.25 v-3 M402.14,16.8 v3 M470.82,284.25 v-3 M470.82,16.8 v3 M539.50,284.25 v-3 M539.50,16.8 v3 M608.18,284.25 v-3 M608.18,16.8 v3 M676.86,284.25 v-3 M676.86,16.8 v3 M401.9,47.60 h3 M676.6,47.60 h-3 M401.9,73.36 h3 M676.6,73.36 h-3 M401.9,99.12 h3 M676.6,99.12 h-3 M401.9,124.88 h3 M676.6,124.88 h-3 M401.9,150.64 h3 M676.6,150.64 h-3 M401.9,176.40 h3 M676.6,176.40 h-3 M401.9,202.16 h3 M676.6,202.16 h-3 M401.9,227.92 h3 M676.6,227.92 h-3 M401.9,253.68 h3 M676.6,253.68 h-3" stroke="#555555" stroke-width="1.1"/><g font-family="Liberation Sans, sans-serif" font-size="10.3" fill="#262626"><text x="401.60" y="298.7" text-anchor="middle">-0.4</text><text x="470.35" y="298.7" text-anchor="middle">-0.2</text><text x="539.10" y="298.7" text-anchor="middle">0</text><text x="607.85" y="298.7" text-anchor="middle">0.2</text><text x="676.60" y="298.7" text-anchor="middle">0.4</text></g><text font-family="Liberation Sans, sans-serif" font-size="11" fill="#262626" x="539.7" y="313.1" text-anchor="middle" textLength="31.4" lengthAdjust="spacingAndGlyphs">PRCC</text><text font-family="Liberation Sans, sans-serif" font-size="11.3" font-weight="bold" fill="#000" x="539.3" y="10.8" text-anchor="middle" textLength="171" lengthAdjust="spacingAndGlyphs">(B) No confirmation of Ag-RDT</text></g></svg></body></html>
